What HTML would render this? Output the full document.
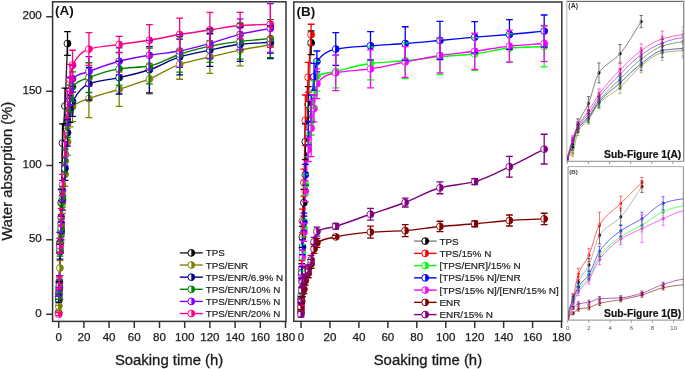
<!DOCTYPE html>
<html><head><meta charset="utf-8"><style>
html,body{margin:0;padding:0;background:#fff;width:685px;height:369px;overflow:hidden}
svg{display:block;will-change:transform}
</style></head><body>
<svg width="685" height="369" viewBox="0 0 685 369">
<rect x="52.6" y="1.8" width="233.4" height="319.6" fill="none" stroke="#333" stroke-width="1.5"/>
<rect x="293.8" y="2.0" width="268.0" height="319.3" fill="none" stroke="#333" stroke-width="1.5"/>
<path d="M46.2,314.20H52.6 M46.2,239.85H52.6 M46.2,165.50H52.6 M46.2,91.15H52.6 M46.2,16.80H52.6 M58.70,321.3V328 M83.90,321.3V328 M109.10,321.3V328 M134.30,321.3V328 M159.50,321.3V328 M184.70,321.3V328 M209.90,321.3V328 M235.10,321.3V328 M260.30,321.3V328 M285.50,321.3V328 M301.00,321.3V328 M329.95,321.3V328 M358.90,321.3V328 M387.85,321.3V328 M416.80,321.3V328 M445.75,321.3V328 M474.70,321.3V328 M503.65,321.3V328 M532.60,321.3V328 M561.55,321.3V328 " stroke="#333" stroke-width="1.5" fill="none"/>
<text x="41.8" y="316.80" text-anchor="end" style="font-family:'Liberation Sans', sans-serif;font-size:11.6px;fill:#1a1a1a;stroke:#1a1a1a;stroke-width:0.25px">0</text>
<text x="41.8" y="242.45" text-anchor="end" style="font-family:'Liberation Sans', sans-serif;font-size:11.6px;fill:#1a1a1a;stroke:#1a1a1a;stroke-width:0.25px">50</text>
<text x="41.8" y="168.10" text-anchor="end" style="font-family:'Liberation Sans', sans-serif;font-size:11.6px;fill:#1a1a1a;stroke:#1a1a1a;stroke-width:0.25px">100</text>
<text x="41.8" y="93.75" text-anchor="end" style="font-family:'Liberation Sans', sans-serif;font-size:11.6px;fill:#1a1a1a;stroke:#1a1a1a;stroke-width:0.25px">150</text>
<text x="41.8" y="19.40" text-anchor="end" style="font-family:'Liberation Sans', sans-serif;font-size:11.6px;fill:#1a1a1a;stroke:#1a1a1a;stroke-width:0.25px">200</text>
<text x="58.70" y="340.8" text-anchor="middle" style="font-family:'Liberation Sans', sans-serif;font-size:11.6px;fill:#1a1a1a;stroke:#1a1a1a;stroke-width:0.25px">0</text>
<text x="301.00" y="340.8" text-anchor="middle" style="font-family:'Liberation Sans', sans-serif;font-size:11.6px;fill:#1a1a1a;stroke:#1a1a1a;stroke-width:0.25px">0</text>
<text x="83.90" y="340.8" text-anchor="middle" style="font-family:'Liberation Sans', sans-serif;font-size:11.6px;fill:#1a1a1a;stroke:#1a1a1a;stroke-width:0.25px">20</text>
<text x="329.95" y="340.8" text-anchor="middle" style="font-family:'Liberation Sans', sans-serif;font-size:11.6px;fill:#1a1a1a;stroke:#1a1a1a;stroke-width:0.25px">20</text>
<text x="109.10" y="340.8" text-anchor="middle" style="font-family:'Liberation Sans', sans-serif;font-size:11.6px;fill:#1a1a1a;stroke:#1a1a1a;stroke-width:0.25px">40</text>
<text x="358.90" y="340.8" text-anchor="middle" style="font-family:'Liberation Sans', sans-serif;font-size:11.6px;fill:#1a1a1a;stroke:#1a1a1a;stroke-width:0.25px">40</text>
<text x="134.30" y="340.8" text-anchor="middle" style="font-family:'Liberation Sans', sans-serif;font-size:11.6px;fill:#1a1a1a;stroke:#1a1a1a;stroke-width:0.25px">60</text>
<text x="387.85" y="340.8" text-anchor="middle" style="font-family:'Liberation Sans', sans-serif;font-size:11.6px;fill:#1a1a1a;stroke:#1a1a1a;stroke-width:0.25px">60</text>
<text x="159.50" y="340.8" text-anchor="middle" style="font-family:'Liberation Sans', sans-serif;font-size:11.6px;fill:#1a1a1a;stroke:#1a1a1a;stroke-width:0.25px">80</text>
<text x="416.80" y="340.8" text-anchor="middle" style="font-family:'Liberation Sans', sans-serif;font-size:11.6px;fill:#1a1a1a;stroke:#1a1a1a;stroke-width:0.25px">80</text>
<text x="184.70" y="340.8" text-anchor="middle" style="font-family:'Liberation Sans', sans-serif;font-size:11.6px;fill:#1a1a1a;stroke:#1a1a1a;stroke-width:0.25px">100</text>
<text x="445.75" y="340.8" text-anchor="middle" style="font-family:'Liberation Sans', sans-serif;font-size:11.6px;fill:#1a1a1a;stroke:#1a1a1a;stroke-width:0.25px">100</text>
<text x="209.90" y="340.8" text-anchor="middle" style="font-family:'Liberation Sans', sans-serif;font-size:11.6px;fill:#1a1a1a;stroke:#1a1a1a;stroke-width:0.25px">120</text>
<text x="474.70" y="340.8" text-anchor="middle" style="font-family:'Liberation Sans', sans-serif;font-size:11.6px;fill:#1a1a1a;stroke:#1a1a1a;stroke-width:0.25px">120</text>
<text x="235.10" y="340.8" text-anchor="middle" style="font-family:'Liberation Sans', sans-serif;font-size:11.6px;fill:#1a1a1a;stroke:#1a1a1a;stroke-width:0.25px">140</text>
<text x="503.65" y="340.8" text-anchor="middle" style="font-family:'Liberation Sans', sans-serif;font-size:11.6px;fill:#1a1a1a;stroke:#1a1a1a;stroke-width:0.25px">140</text>
<text x="260.30" y="340.8" text-anchor="middle" style="font-family:'Liberation Sans', sans-serif;font-size:11.6px;fill:#1a1a1a;stroke:#1a1a1a;stroke-width:0.25px">160</text>
<text x="532.60" y="340.8" text-anchor="middle" style="font-family:'Liberation Sans', sans-serif;font-size:11.6px;fill:#1a1a1a;stroke:#1a1a1a;stroke-width:0.25px">160</text>
<text x="285.50" y="340.8" text-anchor="middle" style="font-family:'Liberation Sans', sans-serif;font-size:11.6px;fill:#1a1a1a;stroke:#1a1a1a;stroke-width:0.25px">180</text>
<text x="561.55" y="340.8" text-anchor="middle" style="font-family:'Liberation Sans', sans-serif;font-size:11.6px;fill:#1a1a1a;stroke:#1a1a1a;stroke-width:0.25px">180</text>
<text x="169.1" y="364.7" text-anchor="middle" style="font-family:'Liberation Sans', sans-serif;font-size:14.9px;fill:#1a1a1a;stroke:#1a1a1a;stroke-width:0.3px">Soaking time (h)</text>
<text x="427.9" y="364.7" text-anchor="middle" style="font-family:'Liberation Sans', sans-serif;font-size:14.9px;fill:#1a1a1a;stroke:#1a1a1a;stroke-width:0.3px">Soaking time (h)</text>
<text transform="translate(11.7,171.2) rotate(-90)" text-anchor="middle" style="font-family:'Liberation Sans', sans-serif;font-size:14.75px;fill:#1a1a1a;stroke:#1a1a1a;stroke-width:0.3px">Water absorption (%)</text>
<text x="55" y="15.3" style="font-family:'Liberation Sans', sans-serif;font-size:13.5px;font-weight:bold;fill:#111">(A)</text>
<text x="296.4" y="15.6" style="font-family:'Liberation Sans', sans-serif;font-size:13.5px;font-weight:bold;fill:#111">(B)</text>
<clipPath id="ca"><rect x="53.3" y="2.4" width="231.6" height="318.2"/></clipPath>
<clipPath id="cb"><rect x="294.5" y="2.7" width="266.6" height="317.9"/></clipPath>
<g clip-path="url(#ca)">
<path d="M58.70,312.71 C58.91,304.29 59.12,298.19 59.33,287.43 C59.54,276.68 59.75,252.46 59.96,242.82 C60.38,223.55 60.80,218.65 61.22,202.67 C61.64,186.70 62.06,153.22 62.48,143.19 C63.32,123.15 64.16,121.56 65.00,106.02 C65.84,90.48 66.68,64.38 67.52,43.57" stroke="#222222" stroke-width="1.40" fill="none"/><path d="M58.70,306.17 C58.91,303.89 59.12,303.07 59.33,299.33 C59.54,295.59 59.75,275.72 59.96,268.10 C60.38,252.88 60.80,244.78 61.22,233.90 C61.64,223.02 62.06,209.44 62.48,202.67 C63.32,189.14 64.16,184.53 65.00,174.42 C65.84,164.32 66.68,152.09 67.52,141.71 C68.36,131.32 69.20,114.92 70.04,111.97 C70.88,109.02 71.72,107.56 72.56,106.76 C78.02,101.60 83.48,100.72 88.94,98.58 C99.02,94.64 109.10,92.48 119.18,89.22 C129.26,85.95 139.34,82.97 149.42,78.96 C159.50,74.94 169.58,67.67 179.66,64.38 C189.74,61.10 199.82,59.32 209.90,56.95 C219.98,54.57 230.06,52.11 240.14,50.11 C250.22,48.11 260.30,46.54 270.38,44.76" stroke="#808000" stroke-width="1.40" fill="none"/><path d="M58.70,299.33 C58.91,295.86 59.12,294.34 59.33,288.92 C59.54,283.50 59.75,257.53 59.96,251.75 C60.38,240.18 60.80,239.26 61.22,230.93 C61.64,222.60 62.06,206.91 62.48,199.70 C63.32,185.29 64.16,179.58 65.00,168.47 C65.84,157.37 66.68,142.30 67.52,132.79 C68.36,123.27 69.20,112.77 70.04,108.99 C70.88,105.22 71.72,103.07 72.56,101.56 C78.02,91.77 83.48,85.71 88.94,83.71 C99.02,80.03 109.10,79.91 119.18,77.62 C129.26,75.33 139.34,72.99 149.42,69.74 C159.50,66.49 169.58,59.92 179.66,56.95 C189.74,53.98 199.82,52.20 209.90,50.11 C219.98,48.02 230.06,45.33 240.14,44.31 C250.22,43.29 260.30,42.92 270.38,42.23" stroke="#000080" stroke-width="1.40" fill="none"/><path d="M58.70,296.36 C58.91,292.89 59.12,291.37 59.33,285.95 C59.54,280.53 59.75,254.55 59.96,248.77 C60.38,237.21 60.80,236.28 61.22,227.95 C61.64,219.63 62.06,204.53 62.48,196.73 C63.32,181.11 64.16,173.18 65.00,161.04 C65.84,148.90 66.68,133.90 67.52,123.86 C68.36,113.83 69.20,103.98 70.04,98.58 C70.88,93.19 71.72,87.72 72.56,86.69 C78.02,79.98 83.48,79.76 88.94,77.62 C99.02,73.66 109.10,70.27 119.18,68.84 C129.26,67.42 139.34,67.54 149.42,66.02 C159.50,64.50 169.58,57.49 179.66,54.27 C189.74,51.06 199.82,48.10 209.90,46.09 C219.98,44.09 230.06,42.48 240.14,41.34 C250.22,40.19 260.30,39.55 270.38,38.66" stroke="#008000" stroke-width="1.40" fill="none"/><path d="M58.70,293.38 C58.91,289.42 59.12,287.43 59.33,281.49 C59.54,275.54 59.75,251.81 59.96,245.80 C60.38,233.77 60.80,232.33 61.22,223.49 C61.64,214.65 62.06,198.93 62.48,190.78 C63.32,174.48 64.16,166.70 65.00,153.60 C65.84,140.51 66.68,121.22 67.52,111.97 C68.36,102.72 69.20,96.32 70.04,91.15 C70.88,85.98 71.72,79.67 72.56,78.81 C78.02,73.22 83.48,73.65 88.94,71.52 C99.02,67.59 109.10,63.77 119.18,61.26 C129.26,58.75 139.34,56.98 149.42,55.31 C159.50,53.65 169.58,52.83 179.66,51.00 C189.74,49.17 199.82,46.17 209.90,43.42 C219.98,40.66 230.06,36.74 240.14,34.35 C250.22,31.95 260.30,30.38 270.38,28.40" stroke="#8000FF" stroke-width="1.40" fill="none"/><path d="M58.70,314.20 C58.91,303.79 59.12,294.29 59.33,282.97 C59.54,271.66 59.75,252.98 59.96,245.80 C60.38,231.43 60.80,227.65 61.22,217.54 C61.64,207.44 62.06,193.35 62.48,184.83 C63.32,167.79 64.16,158.06 65.00,144.68 C65.84,131.30 66.68,114.87 67.52,104.53 C68.36,94.19 69.20,85.30 70.04,79.25 C70.88,73.21 71.72,66.82 72.56,65.13 C78.02,54.13 83.48,50.62 88.94,49.07 C99.02,46.20 109.10,45.92 119.18,44.46 C129.26,43.00 139.34,41.91 149.42,40.29 C159.50,38.68 169.58,36.21 179.66,34.50 C189.74,32.78 199.82,31.37 209.90,29.89 C219.98,28.40 230.06,26.25 240.14,25.57 C250.22,24.89 260.30,24.68 270.38,24.23" stroke="#FF0080" stroke-width="1.40" fill="none"/><circle cx="58.70" cy="312.71" r="3.45" fill="#fff" stroke="#000000" stroke-width="0.85"/><path d="M58.70,309.26 A3.45,3.45 0 0 1 58.70,316.16 Z" fill="#000000"/><circle cx="59.33" cy="287.43" r="3.45" fill="#fff" stroke="#000000" stroke-width="0.85"/><path d="M59.33,283.98 A3.45,3.45 0 0 1 59.33,290.88 Z" fill="#000000"/><circle cx="59.96" cy="242.82" r="3.45" fill="#fff" stroke="#000000" stroke-width="0.85"/><path d="M59.96,239.37 A3.45,3.45 0 0 1 59.96,246.27 Z" fill="#000000"/><circle cx="61.22" cy="202.67" r="3.45" fill="#fff" stroke="#000000" stroke-width="0.85"/><path d="M61.22,199.22 A3.45,3.45 0 0 1 61.22,206.12 Z" fill="#000000"/><circle cx="62.48" cy="143.19" r="3.45" fill="#fff" stroke="#000000" stroke-width="0.85"/><path d="M62.48,139.74 A3.45,3.45 0 0 1 62.48,146.64 Z" fill="#000000"/><circle cx="65.00" cy="106.02" r="3.45" fill="#fff" stroke="#000000" stroke-width="0.85"/><path d="M65.00,102.57 A3.45,3.45 0 0 1 65.00,109.47 Z" fill="#000000"/><circle cx="67.52" cy="43.57" r="3.45" fill="#fff" stroke="#000000" stroke-width="0.85"/><path d="M67.52,40.12 A3.45,3.45 0 0 1 67.52,47.02 Z" fill="#000000"/><circle cx="58.70" cy="306.17" r="3.45" fill="#fff" stroke="#808000" stroke-width="0.85"/><path d="M58.70,302.72 A3.45,3.45 0 0 1 58.70,309.62 Z" fill="#808000"/><circle cx="59.33" cy="299.33" r="3.45" fill="#fff" stroke="#808000" stroke-width="0.85"/><path d="M59.33,295.88 A3.45,3.45 0 0 1 59.33,302.78 Z" fill="#808000"/><circle cx="59.96" cy="268.10" r="3.45" fill="#fff" stroke="#808000" stroke-width="0.85"/><path d="M59.96,264.65 A3.45,3.45 0 0 1 59.96,271.55 Z" fill="#808000"/><circle cx="61.22" cy="233.90" r="3.45" fill="#fff" stroke="#808000" stroke-width="0.85"/><path d="M61.22,230.45 A3.45,3.45 0 0 1 61.22,237.35 Z" fill="#808000"/><circle cx="62.48" cy="202.67" r="3.45" fill="#fff" stroke="#808000" stroke-width="0.85"/><path d="M62.48,199.22 A3.45,3.45 0 0 1 62.48,206.12 Z" fill="#808000"/><circle cx="65.00" cy="174.42" r="3.45" fill="#fff" stroke="#808000" stroke-width="0.85"/><path d="M65.00,170.97 A3.45,3.45 0 0 1 65.00,177.87 Z" fill="#808000"/><circle cx="67.52" cy="141.71" r="3.45" fill="#fff" stroke="#808000" stroke-width="0.85"/><path d="M67.52,138.26 A3.45,3.45 0 0 1 67.52,145.16 Z" fill="#808000"/><circle cx="70.04" cy="111.97" r="3.45" fill="#fff" stroke="#808000" stroke-width="0.85"/><path d="M70.04,108.52 A3.45,3.45 0 0 1 70.04,115.42 Z" fill="#808000"/><circle cx="72.56" cy="106.76" r="3.45" fill="#fff" stroke="#808000" stroke-width="0.85"/><path d="M72.56,103.31 A3.45,3.45 0 0 1 72.56,110.21 Z" fill="#808000"/><circle cx="88.94" cy="98.58" r="3.45" fill="#fff" stroke="#808000" stroke-width="0.85"/><path d="M88.94,95.13 A3.45,3.45 0 0 1 88.94,102.03 Z" fill="#808000"/><circle cx="119.18" cy="89.22" r="3.45" fill="#fff" stroke="#808000" stroke-width="0.85"/><path d="M119.18,85.77 A3.45,3.45 0 0 1 119.18,92.67 Z" fill="#808000"/><circle cx="149.42" cy="78.96" r="3.45" fill="#fff" stroke="#808000" stroke-width="0.85"/><path d="M149.42,75.51 A3.45,3.45 0 0 1 149.42,82.41 Z" fill="#808000"/><circle cx="179.66" cy="64.38" r="3.45" fill="#fff" stroke="#808000" stroke-width="0.85"/><path d="M179.66,60.93 A3.45,3.45 0 0 1 179.66,67.83 Z" fill="#808000"/><circle cx="209.90" cy="56.95" r="3.45" fill="#fff" stroke="#808000" stroke-width="0.85"/><path d="M209.90,53.50 A3.45,3.45 0 0 1 209.90,60.40 Z" fill="#808000"/><circle cx="240.14" cy="50.11" r="3.45" fill="#fff" stroke="#808000" stroke-width="0.85"/><path d="M240.14,46.66 A3.45,3.45 0 0 1 240.14,53.56 Z" fill="#808000"/><circle cx="270.38" cy="44.76" r="3.45" fill="#fff" stroke="#808000" stroke-width="0.85"/><path d="M270.38,41.31 A3.45,3.45 0 0 1 270.38,48.21 Z" fill="#808000"/><circle cx="58.70" cy="299.33" r="3.45" fill="#fff" stroke="#000080" stroke-width="0.85"/><path d="M58.70,295.88 A3.45,3.45 0 0 1 58.70,302.78 Z" fill="#000080"/><circle cx="59.33" cy="288.92" r="3.45" fill="#fff" stroke="#000080" stroke-width="0.85"/><path d="M59.33,285.47 A3.45,3.45 0 0 1 59.33,292.37 Z" fill="#000080"/><circle cx="59.96" cy="251.75" r="3.45" fill="#fff" stroke="#000080" stroke-width="0.85"/><path d="M59.96,248.30 A3.45,3.45 0 0 1 59.96,255.20 Z" fill="#000080"/><circle cx="61.22" cy="230.93" r="3.45" fill="#fff" stroke="#000080" stroke-width="0.85"/><path d="M61.22,227.48 A3.45,3.45 0 0 1 61.22,234.38 Z" fill="#000080"/><circle cx="62.48" cy="199.70" r="3.45" fill="#fff" stroke="#000080" stroke-width="0.85"/><path d="M62.48,196.25 A3.45,3.45 0 0 1 62.48,203.15 Z" fill="#000080"/><circle cx="65.00" cy="168.47" r="3.45" fill="#fff" stroke="#000080" stroke-width="0.85"/><path d="M65.00,165.02 A3.45,3.45 0 0 1 65.00,171.92 Z" fill="#000080"/><circle cx="67.52" cy="132.79" r="3.45" fill="#fff" stroke="#000080" stroke-width="0.85"/><path d="M67.52,129.34 A3.45,3.45 0 0 1 67.52,136.24 Z" fill="#000080"/><circle cx="70.04" cy="108.99" r="3.45" fill="#fff" stroke="#000080" stroke-width="0.85"/><path d="M70.04,105.54 A3.45,3.45 0 0 1 70.04,112.44 Z" fill="#000080"/><circle cx="72.56" cy="101.56" r="3.45" fill="#fff" stroke="#000080" stroke-width="0.85"/><path d="M72.56,98.11 A3.45,3.45 0 0 1 72.56,105.01 Z" fill="#000080"/><circle cx="88.94" cy="83.71" r="3.45" fill="#fff" stroke="#000080" stroke-width="0.85"/><path d="M88.94,80.26 A3.45,3.45 0 0 1 88.94,87.16 Z" fill="#000080"/><circle cx="119.18" cy="77.62" r="3.45" fill="#fff" stroke="#000080" stroke-width="0.85"/><path d="M119.18,74.17 A3.45,3.45 0 0 1 119.18,81.07 Z" fill="#000080"/><circle cx="149.42" cy="69.74" r="3.45" fill="#fff" stroke="#000080" stroke-width="0.85"/><path d="M149.42,66.29 A3.45,3.45 0 0 1 149.42,73.19 Z" fill="#000080"/><circle cx="179.66" cy="56.95" r="3.45" fill="#fff" stroke="#000080" stroke-width="0.85"/><path d="M179.66,53.50 A3.45,3.45 0 0 1 179.66,60.40 Z" fill="#000080"/><circle cx="209.90" cy="50.11" r="3.45" fill="#fff" stroke="#000080" stroke-width="0.85"/><path d="M209.90,46.66 A3.45,3.45 0 0 1 209.90,53.56 Z" fill="#000080"/><circle cx="240.14" cy="44.31" r="3.45" fill="#fff" stroke="#000080" stroke-width="0.85"/><path d="M240.14,40.86 A3.45,3.45 0 0 1 240.14,47.76 Z" fill="#000080"/><circle cx="270.38" cy="42.23" r="3.45" fill="#fff" stroke="#000080" stroke-width="0.85"/><path d="M270.38,38.78 A3.45,3.45 0 0 1 270.38,45.68 Z" fill="#000080"/><circle cx="58.70" cy="296.36" r="3.45" fill="#fff" stroke="#008000" stroke-width="0.85"/><path d="M58.70,292.91 A3.45,3.45 0 0 1 58.70,299.81 Z" fill="#008000"/><circle cx="59.33" cy="285.95" r="3.45" fill="#fff" stroke="#008000" stroke-width="0.85"/><path d="M59.33,282.50 A3.45,3.45 0 0 1 59.33,289.40 Z" fill="#008000"/><circle cx="59.96" cy="248.77" r="3.45" fill="#fff" stroke="#008000" stroke-width="0.85"/><path d="M59.96,245.32 A3.45,3.45 0 0 1 59.96,252.22 Z" fill="#008000"/><circle cx="61.22" cy="227.95" r="3.45" fill="#fff" stroke="#008000" stroke-width="0.85"/><path d="M61.22,224.50 A3.45,3.45 0 0 1 61.22,231.40 Z" fill="#008000"/><circle cx="62.48" cy="196.73" r="3.45" fill="#fff" stroke="#008000" stroke-width="0.85"/><path d="M62.48,193.28 A3.45,3.45 0 0 1 62.48,200.18 Z" fill="#008000"/><circle cx="65.00" cy="161.04" r="3.45" fill="#fff" stroke="#008000" stroke-width="0.85"/><path d="M65.00,157.59 A3.45,3.45 0 0 1 65.00,164.49 Z" fill="#008000"/><circle cx="67.52" cy="123.86" r="3.45" fill="#fff" stroke="#008000" stroke-width="0.85"/><path d="M67.52,120.41 A3.45,3.45 0 0 1 67.52,127.31 Z" fill="#008000"/><circle cx="70.04" cy="98.58" r="3.45" fill="#fff" stroke="#008000" stroke-width="0.85"/><path d="M70.04,95.13 A3.45,3.45 0 0 1 70.04,102.03 Z" fill="#008000"/><circle cx="72.56" cy="86.69" r="3.45" fill="#fff" stroke="#008000" stroke-width="0.85"/><path d="M72.56,83.24 A3.45,3.45 0 0 1 72.56,90.14 Z" fill="#008000"/><circle cx="88.94" cy="77.62" r="3.45" fill="#fff" stroke="#008000" stroke-width="0.85"/><path d="M88.94,74.17 A3.45,3.45 0 0 1 88.94,81.07 Z" fill="#008000"/><circle cx="119.18" cy="68.84" r="3.45" fill="#fff" stroke="#008000" stroke-width="0.85"/><path d="M119.18,65.39 A3.45,3.45 0 0 1 119.18,72.29 Z" fill="#008000"/><circle cx="149.42" cy="66.02" r="3.45" fill="#fff" stroke="#008000" stroke-width="0.85"/><path d="M149.42,62.57 A3.45,3.45 0 0 1 149.42,69.47 Z" fill="#008000"/><circle cx="179.66" cy="54.27" r="3.45" fill="#fff" stroke="#008000" stroke-width="0.85"/><path d="M179.66,50.82 A3.45,3.45 0 0 1 179.66,57.72 Z" fill="#008000"/><circle cx="209.90" cy="46.09" r="3.45" fill="#fff" stroke="#008000" stroke-width="0.85"/><path d="M209.90,42.64 A3.45,3.45 0 0 1 209.90,49.54 Z" fill="#008000"/><circle cx="240.14" cy="41.34" r="3.45" fill="#fff" stroke="#008000" stroke-width="0.85"/><path d="M240.14,37.89 A3.45,3.45 0 0 1 240.14,44.79 Z" fill="#008000"/><circle cx="270.38" cy="38.66" r="3.45" fill="#fff" stroke="#008000" stroke-width="0.85"/><path d="M270.38,35.21 A3.45,3.45 0 0 1 270.38,42.11 Z" fill="#008000"/><circle cx="58.70" cy="293.38" r="3.45" fill="#fff" stroke="#8000FF" stroke-width="0.85"/><path d="M58.70,289.93 A3.45,3.45 0 0 1 58.70,296.83 Z" fill="#8000FF"/><circle cx="59.33" cy="281.49" r="3.45" fill="#fff" stroke="#8000FF" stroke-width="0.85"/><path d="M59.33,278.04 A3.45,3.45 0 0 1 59.33,284.94 Z" fill="#8000FF"/><circle cx="59.96" cy="245.80" r="3.45" fill="#fff" stroke="#8000FF" stroke-width="0.85"/><path d="M59.96,242.35 A3.45,3.45 0 0 1 59.96,249.25 Z" fill="#8000FF"/><circle cx="61.22" cy="223.49" r="3.45" fill="#fff" stroke="#8000FF" stroke-width="0.85"/><path d="M61.22,220.04 A3.45,3.45 0 0 1 61.22,226.94 Z" fill="#8000FF"/><circle cx="62.48" cy="190.78" r="3.45" fill="#fff" stroke="#8000FF" stroke-width="0.85"/><path d="M62.48,187.33 A3.45,3.45 0 0 1 62.48,194.23 Z" fill="#8000FF"/><circle cx="65.00" cy="153.60" r="3.45" fill="#fff" stroke="#8000FF" stroke-width="0.85"/><path d="M65.00,150.15 A3.45,3.45 0 0 1 65.00,157.05 Z" fill="#8000FF"/><circle cx="67.52" cy="111.97" r="3.45" fill="#fff" stroke="#8000FF" stroke-width="0.85"/><path d="M67.52,108.52 A3.45,3.45 0 0 1 67.52,115.42 Z" fill="#8000FF"/><circle cx="70.04" cy="91.15" r="3.45" fill="#fff" stroke="#8000FF" stroke-width="0.85"/><path d="M70.04,87.70 A3.45,3.45 0 0 1 70.04,94.60 Z" fill="#8000FF"/><circle cx="72.56" cy="78.81" r="3.45" fill="#fff" stroke="#8000FF" stroke-width="0.85"/><path d="M72.56,75.36 A3.45,3.45 0 0 1 72.56,82.26 Z" fill="#8000FF"/><circle cx="88.94" cy="71.52" r="3.45" fill="#fff" stroke="#8000FF" stroke-width="0.85"/><path d="M88.94,68.07 A3.45,3.45 0 0 1 88.94,74.97 Z" fill="#8000FF"/><circle cx="119.18" cy="61.26" r="3.45" fill="#fff" stroke="#8000FF" stroke-width="0.85"/><path d="M119.18,57.81 A3.45,3.45 0 0 1 119.18,64.71 Z" fill="#8000FF"/><circle cx="149.42" cy="55.31" r="3.45" fill="#fff" stroke="#8000FF" stroke-width="0.85"/><path d="M149.42,51.86 A3.45,3.45 0 0 1 149.42,58.76 Z" fill="#8000FF"/><circle cx="179.66" cy="51.00" r="3.45" fill="#fff" stroke="#8000FF" stroke-width="0.85"/><path d="M179.66,47.55 A3.45,3.45 0 0 1 179.66,54.45 Z" fill="#8000FF"/><circle cx="209.90" cy="43.42" r="3.45" fill="#fff" stroke="#8000FF" stroke-width="0.85"/><path d="M209.90,39.97 A3.45,3.45 0 0 1 209.90,46.87 Z" fill="#8000FF"/><circle cx="240.14" cy="34.35" r="3.45" fill="#fff" stroke="#8000FF" stroke-width="0.85"/><path d="M240.14,30.90 A3.45,3.45 0 0 1 240.14,37.80 Z" fill="#8000FF"/><circle cx="270.38" cy="28.40" r="3.45" fill="#fff" stroke="#8000FF" stroke-width="0.85"/><path d="M270.38,24.95 A3.45,3.45 0 0 1 270.38,31.85 Z" fill="#8000FF"/><circle cx="58.70" cy="314.20" r="3.45" fill="#fff" stroke="#FF0080" stroke-width="0.85"/><path d="M58.70,310.75 A3.45,3.45 0 0 1 58.70,317.65 Z" fill="#FF0080"/><circle cx="59.33" cy="282.97" r="3.45" fill="#fff" stroke="#FF0080" stroke-width="0.85"/><path d="M59.33,279.52 A3.45,3.45 0 0 1 59.33,286.42 Z" fill="#FF0080"/><circle cx="59.96" cy="245.80" r="3.45" fill="#fff" stroke="#FF0080" stroke-width="0.85"/><path d="M59.96,242.35 A3.45,3.45 0 0 1 59.96,249.25 Z" fill="#FF0080"/><circle cx="61.22" cy="217.54" r="3.45" fill="#fff" stroke="#FF0080" stroke-width="0.85"/><path d="M61.22,214.09 A3.45,3.45 0 0 1 61.22,220.99 Z" fill="#FF0080"/><circle cx="62.48" cy="184.83" r="3.45" fill="#fff" stroke="#FF0080" stroke-width="0.85"/><path d="M62.48,181.38 A3.45,3.45 0 0 1 62.48,188.28 Z" fill="#FF0080"/><circle cx="65.00" cy="144.68" r="3.45" fill="#fff" stroke="#FF0080" stroke-width="0.85"/><path d="M65.00,141.23 A3.45,3.45 0 0 1 65.00,148.13 Z" fill="#FF0080"/><circle cx="67.52" cy="104.53" r="3.45" fill="#fff" stroke="#FF0080" stroke-width="0.85"/><path d="M67.52,101.08 A3.45,3.45 0 0 1 67.52,107.98 Z" fill="#FF0080"/><circle cx="70.04" cy="79.25" r="3.45" fill="#fff" stroke="#FF0080" stroke-width="0.85"/><path d="M70.04,75.80 A3.45,3.45 0 0 1 70.04,82.70 Z" fill="#FF0080"/><circle cx="72.56" cy="65.13" r="3.45" fill="#fff" stroke="#FF0080" stroke-width="0.85"/><path d="M72.56,61.68 A3.45,3.45 0 0 1 72.56,68.58 Z" fill="#FF0080"/><circle cx="88.94" cy="49.07" r="3.45" fill="#fff" stroke="#FF0080" stroke-width="0.85"/><path d="M88.94,45.62 A3.45,3.45 0 0 1 88.94,52.52 Z" fill="#FF0080"/><circle cx="119.18" cy="44.46" r="3.45" fill="#fff" stroke="#FF0080" stroke-width="0.85"/><path d="M119.18,41.01 A3.45,3.45 0 0 1 119.18,47.91 Z" fill="#FF0080"/><circle cx="149.42" cy="40.29" r="3.45" fill="#fff" stroke="#FF0080" stroke-width="0.85"/><path d="M149.42,36.84 A3.45,3.45 0 0 1 149.42,43.74 Z" fill="#FF0080"/><circle cx="179.66" cy="34.50" r="3.45" fill="#fff" stroke="#FF0080" stroke-width="0.85"/><path d="M179.66,31.05 A3.45,3.45 0 0 1 179.66,37.95 Z" fill="#FF0080"/><circle cx="209.90" cy="29.89" r="3.45" fill="#fff" stroke="#FF0080" stroke-width="0.85"/><path d="M209.90,26.44 A3.45,3.45 0 0 1 209.90,33.34 Z" fill="#FF0080"/><circle cx="240.14" cy="25.57" r="3.45" fill="#fff" stroke="#FF0080" stroke-width="0.85"/><path d="M240.14,22.12 A3.45,3.45 0 0 1 240.14,29.02 Z" fill="#FF0080"/><circle cx="270.38" cy="24.23" r="3.45" fill="#fff" stroke="#FF0080" stroke-width="0.85"/><path d="M270.38,20.78 A3.45,3.45 0 0 1 270.38,27.68 Z" fill="#FF0080"/><path d="M59.33,281.49 V293.38 M55.93,281.49 H62.73 M55.93,293.38 H62.73" stroke="#000000" stroke-width="1.30" fill="none"/><path d="M59.96,232.41 V253.23 M56.56,232.41 H63.36 M56.56,253.23 H63.36" stroke="#000000" stroke-width="1.30" fill="none"/><path d="M61.22,189.29 V216.06 M57.82,189.29 H64.62 M57.82,216.06 H64.62" stroke="#000000" stroke-width="1.30" fill="none"/><path d="M62.48,123.86 V162.53 M59.08,123.86 H65.88 M59.08,162.53 H65.88" stroke="#000000" stroke-width="1.30" fill="none"/><path d="M65.00,88.18 V123.86 M61.60,88.18 H68.40 M61.60,123.86 H68.40" stroke="#000000" stroke-width="1.30" fill="none"/><path d="M67.52,31.67 V55.46 M64.12,31.67 H70.92 M64.12,55.46 H70.92" stroke="#000000" stroke-width="1.30" fill="none"/><path d="M58.70,301.86 V310.48 M55.30,301.86 H62.10 M55.30,310.48 H62.10" stroke="#808000" stroke-width="1.30" fill="none"/><path d="M59.33,293.38 V305.28 M55.93,293.38 H62.73 M55.93,305.28 H62.73" stroke="#808000" stroke-width="1.30" fill="none"/><path d="M59.96,260.67 V275.54 M56.56,260.67 H63.36 M56.56,275.54 H63.36" stroke="#808000" stroke-width="1.30" fill="none"/><path d="M61.22,224.98 V242.82 M57.82,224.98 H64.62 M57.82,242.82 H64.62" stroke="#808000" stroke-width="1.30" fill="none"/><path d="M62.48,192.27 V213.08 M59.08,192.27 H65.88 M59.08,213.08 H65.88" stroke="#808000" stroke-width="1.30" fill="none"/><path d="M65.00,162.53 V186.32 M61.60,162.53 H68.40 M61.60,186.32 H68.40" stroke="#808000" stroke-width="1.30" fill="none"/><path d="M67.52,128.32 V155.09 M64.12,128.32 H70.92 M64.12,155.09 H70.92" stroke="#808000" stroke-width="1.30" fill="none"/><path d="M70.04,97.10 V126.84 M66.64,97.10 H73.44 M66.64,126.84 H73.44" stroke="#808000" stroke-width="1.30" fill="none"/><path d="M72.56,91.89 V121.63 M69.16,91.89 H75.96 M69.16,121.63 H75.96" stroke="#808000" stroke-width="1.30" fill="none"/><path d="M88.94,79.55 V117.62 M85.54,79.55 H92.34 M85.54,117.62 H92.34" stroke="#808000" stroke-width="1.30" fill="none"/><path d="M119.18,72.12 V106.32 M115.78,72.12 H122.58 M115.78,106.32 H122.58" stroke="#808000" stroke-width="1.30" fill="none"/><path d="M149.42,64.09 V93.83 M146.02,64.09 H152.82 M146.02,93.83 H152.82" stroke="#808000" stroke-width="1.30" fill="none"/><path d="M179.66,49.51 V79.25 M176.26,49.51 H183.06 M176.26,79.25 H183.06" stroke="#808000" stroke-width="1.30" fill="none"/><path d="M209.90,40.59 V73.31 M206.50,40.59 H213.30 M206.50,73.31 H213.30" stroke="#808000" stroke-width="1.30" fill="none"/><path d="M240.14,34.35 V65.87 M236.74,34.35 H243.54 M236.74,65.87 H243.54" stroke="#808000" stroke-width="1.30" fill="none"/><path d="M270.38,37.32 V52.19 M266.98,37.32 H273.78 M266.98,52.19 H273.78" stroke="#808000" stroke-width="1.30" fill="none"/><path d="M58.70,296.36 V302.30 M55.30,296.36 H62.10 M55.30,302.30 H62.10" stroke="#000080" stroke-width="1.30" fill="none"/><path d="M59.33,282.97 V294.87 M55.93,282.97 H62.73 M55.93,294.87 H62.73" stroke="#000080" stroke-width="1.30" fill="none"/><path d="M59.96,244.31 V259.18 M56.56,244.31 H63.36 M56.56,259.18 H63.36" stroke="#000080" stroke-width="1.30" fill="none"/><path d="M61.22,222.01 V239.85 M57.82,222.01 H64.62 M57.82,239.85 H64.62" stroke="#000080" stroke-width="1.30" fill="none"/><path d="M62.48,189.29 V210.11 M59.08,189.29 H65.88 M59.08,210.11 H65.88" stroke="#000080" stroke-width="1.30" fill="none"/><path d="M65.00,156.58 V180.37 M61.60,156.58 H68.40 M61.60,180.37 H68.40" stroke="#000080" stroke-width="1.30" fill="none"/><path d="M67.52,119.40 V146.17 M64.12,119.40 H70.92 M64.12,146.17 H70.92" stroke="#000080" stroke-width="1.30" fill="none"/><path d="M70.04,95.61 V122.38 M66.64,95.61 H73.44 M66.64,122.38 H73.44" stroke="#000080" stroke-width="1.30" fill="none"/><path d="M72.56,86.69 V116.43 M69.16,86.69 H75.96 M69.16,116.43 H75.96" stroke="#000080" stroke-width="1.30" fill="none"/><path d="M88.94,67.36 V100.07 M85.54,67.36 H92.34 M85.54,100.07 H92.34" stroke="#000080" stroke-width="1.30" fill="none"/><path d="M119.18,61.26 V93.98 M115.78,61.26 H122.58 M115.78,93.98 H122.58" stroke="#000080" stroke-width="1.30" fill="none"/><path d="M149.42,46.69 V92.79 M146.02,46.69 H152.82 M146.02,92.79 H152.82" stroke="#000080" stroke-width="1.30" fill="none"/><path d="M179.66,39.10 V74.79 M176.26,39.10 H183.06 M176.26,74.79 H183.06" stroke="#000080" stroke-width="1.30" fill="none"/><path d="M209.90,33.75 V66.47 M206.50,33.75 H213.30 M206.50,66.47 H213.30" stroke="#000080" stroke-width="1.30" fill="none"/><path d="M240.14,27.21 V61.41 M236.74,27.21 H243.54 M236.74,61.41 H243.54" stroke="#000080" stroke-width="1.30" fill="none"/><path d="M270.38,25.87 V58.58 M266.98,25.87 H273.78 M266.98,58.58 H273.78" stroke="#000080" stroke-width="1.30" fill="none"/><path d="M58.70,293.38 V299.33 M55.30,293.38 H62.10 M55.30,299.33 H62.10" stroke="#008000" stroke-width="1.30" fill="none"/><path d="M59.33,280.00 V291.89 M55.93,280.00 H62.73 M55.93,291.89 H62.73" stroke="#008000" stroke-width="1.30" fill="none"/><path d="M59.96,241.34 V256.21 M56.56,241.34 H63.36 M56.56,256.21 H63.36" stroke="#008000" stroke-width="1.30" fill="none"/><path d="M61.22,219.03 V236.88 M57.82,219.03 H64.62 M57.82,236.88 H64.62" stroke="#008000" stroke-width="1.30" fill="none"/><path d="M62.48,186.32 V207.14 M59.08,186.32 H65.88 M59.08,207.14 H65.88" stroke="#008000" stroke-width="1.30" fill="none"/><path d="M65.00,149.14 V172.94 M61.60,149.14 H68.40 M61.60,172.94 H68.40" stroke="#008000" stroke-width="1.30" fill="none"/><path d="M67.52,110.48 V137.25 M64.12,110.48 H70.92 M64.12,137.25 H70.92" stroke="#008000" stroke-width="1.30" fill="none"/><path d="M70.04,85.20 V111.97 M66.64,85.20 H73.44 M66.64,111.97 H73.44" stroke="#008000" stroke-width="1.30" fill="none"/><path d="M72.56,71.82 V101.56 M69.16,71.82 H75.96 M69.16,101.56 H75.96" stroke="#008000" stroke-width="1.30" fill="none"/><path d="M88.94,62.75 V92.49 M85.54,62.75 H92.34 M85.54,92.49 H92.34" stroke="#008000" stroke-width="1.30" fill="none"/><path d="M119.18,52.49 V85.20 M115.78,52.49 H122.58 M115.78,85.20 H122.58" stroke="#008000" stroke-width="1.30" fill="none"/><path d="M149.42,48.18 V83.86 M146.02,48.18 H152.82 M146.02,83.86 H152.82" stroke="#008000" stroke-width="1.30" fill="none"/><path d="M179.66,36.43 V72.12 M176.26,36.43 H183.06 M176.26,72.12 H183.06" stroke="#008000" stroke-width="1.30" fill="none"/><path d="M209.90,29.74 V62.45 M206.50,29.74 H213.30 M206.50,62.45 H213.30" stroke="#008000" stroke-width="1.30" fill="none"/><path d="M240.14,23.49 V59.18 M236.74,23.49 H243.54 M236.74,59.18 H243.54" stroke="#008000" stroke-width="1.30" fill="none"/><path d="M270.38,19.63 V57.69 M266.98,19.63 H273.78 M266.98,57.69 H273.78" stroke="#008000" stroke-width="1.30" fill="none"/><path d="M58.70,290.41 V296.36 M55.30,290.41 H62.10 M55.30,296.36 H62.10" stroke="#8000FF" stroke-width="1.30" fill="none"/><path d="M59.33,275.54 V287.43 M55.93,275.54 H62.73 M55.93,287.43 H62.73" stroke="#8000FF" stroke-width="1.30" fill="none"/><path d="M59.96,238.36 V253.23 M56.56,238.36 H63.36 M56.56,253.23 H63.36" stroke="#8000FF" stroke-width="1.30" fill="none"/><path d="M61.22,214.57 V232.41 M57.82,214.57 H64.62 M57.82,232.41 H64.62" stroke="#8000FF" stroke-width="1.30" fill="none"/><path d="M62.48,180.37 V201.19 M59.08,180.37 H65.88 M59.08,201.19 H65.88" stroke="#8000FF" stroke-width="1.30" fill="none"/><path d="M65.00,141.71 V165.50 M61.60,141.71 H68.40 M61.60,165.50 H68.40" stroke="#8000FF" stroke-width="1.30" fill="none"/><path d="M67.52,98.58 V125.35 M64.12,98.58 H70.92 M64.12,125.35 H70.92" stroke="#8000FF" stroke-width="1.30" fill="none"/><path d="M70.04,77.77 V104.53 M66.64,77.77 H73.44 M66.64,104.53 H73.44" stroke="#8000FF" stroke-width="1.30" fill="none"/><path d="M72.56,65.42 V92.19 M69.16,65.42 H75.96 M69.16,92.19 H75.96" stroke="#8000FF" stroke-width="1.30" fill="none"/><path d="M88.94,56.65 V86.39 M85.54,56.65 H92.34 M85.54,86.39 H92.34" stroke="#8000FF" stroke-width="1.30" fill="none"/><path d="M119.18,47.88 V74.64 M115.78,47.88 H122.58 M115.78,74.64 H122.58" stroke="#8000FF" stroke-width="1.30" fill="none"/><path d="M149.42,40.44 V70.18 M146.02,40.44 H152.82 M146.02,70.18 H152.82" stroke="#8000FF" stroke-width="1.30" fill="none"/><path d="M179.66,34.64 V67.36 M176.26,34.64 H183.06 M176.26,67.36 H183.06" stroke="#8000FF" stroke-width="1.30" fill="none"/><path d="M209.90,28.55 V58.29 M206.50,28.55 H213.30 M206.50,58.29 H213.30" stroke="#8000FF" stroke-width="1.30" fill="none"/><path d="M240.14,18.88 V49.81 M236.74,18.88 H243.54 M236.74,49.81 H243.54" stroke="#8000FF" stroke-width="1.30" fill="none"/><path d="M270.38,3.57 V53.23 M266.98,3.57 H273.78 M266.98,53.23 H273.78" stroke="#8000FF" stroke-width="1.30" fill="none"/><path d="M58.70,312.71 V315.69 M55.30,312.71 H62.10 M55.30,315.69 H62.10" stroke="#FF0080" stroke-width="1.30" fill="none"/><path d="M59.33,277.02 V288.92 M55.93,277.02 H62.73 M55.93,288.92 H62.73" stroke="#FF0080" stroke-width="1.30" fill="none"/><path d="M59.96,238.36 V253.23 M56.56,238.36 H63.36 M56.56,253.23 H63.36" stroke="#FF0080" stroke-width="1.30" fill="none"/><path d="M61.22,208.62 V226.47 M57.82,208.62 H64.62 M57.82,226.47 H64.62" stroke="#FF0080" stroke-width="1.30" fill="none"/><path d="M62.48,174.42 V195.24 M59.08,174.42 H65.88 M59.08,195.24 H65.88" stroke="#FF0080" stroke-width="1.30" fill="none"/><path d="M65.00,132.79 V156.58 M61.60,132.79 H68.40 M61.60,156.58 H68.40" stroke="#FF0080" stroke-width="1.30" fill="none"/><path d="M67.52,91.15 V117.92 M64.12,91.15 H70.92 M64.12,117.92 H70.92" stroke="#FF0080" stroke-width="1.30" fill="none"/><path d="M70.04,64.38 V94.12 M66.64,64.38 H73.44 M66.64,94.12 H73.44" stroke="#FF0080" stroke-width="1.30" fill="none"/><path d="M72.56,50.26 V80.00 M69.16,50.26 H75.96 M69.16,80.00 H75.96" stroke="#FF0080" stroke-width="1.30" fill="none"/><path d="M88.94,32.71 V65.42 M85.54,32.71 H92.34 M85.54,65.42 H92.34" stroke="#FF0080" stroke-width="1.30" fill="none"/><path d="M119.18,36.28 V52.64 M115.78,36.28 H122.58 M115.78,52.64 H122.58" stroke="#FF0080" stroke-width="1.30" fill="none"/><path d="M149.42,24.53 V56.06 M146.02,24.53 H152.82 M146.02,56.06 H152.82" stroke="#FF0080" stroke-width="1.30" fill="none"/><path d="M179.66,18.14 V50.85 M176.26,18.14 H183.06 M176.26,50.85 H183.06" stroke="#FF0080" stroke-width="1.30" fill="none"/><path d="M209.90,12.34 V47.43 M206.50,12.34 H213.30 M206.50,47.43 H213.30" stroke="#FF0080" stroke-width="1.30" fill="none"/><path d="M240.14,12.34 V38.81 M236.74,12.34 H243.54 M236.74,38.81 H243.54" stroke="#FF0080" stroke-width="1.30" fill="none"/><path d="M270.38,1.19 V47.28 M266.98,1.19 H273.78 M266.98,47.28 H273.78" stroke="#FF0080" stroke-width="1.30" fill="none"/>
</g>
<g clip-path="url(#cb)">
<path d="M301.00,312.71 C301.24,300.32 301.48,288.17 301.72,275.54 C301.96,262.90 302.21,245.14 302.45,236.88 C302.93,220.36 303.41,217.28 303.89,202.67 C304.38,188.07 304.86,151.80 305.34,141.71 C306.31,121.52 307.27,120.00 308.24,104.53 C309.20,89.07 310.17,63.39 311.13,42.82" stroke="#808080" stroke-width="1.40" fill="none"/><path d="M301.00,309.74 C301.24,296.36 301.48,284.25 301.72,269.59 C301.96,254.93 302.21,230.60 302.45,220.97 C302.93,201.69 303.41,198.43 303.89,182.60 C304.38,166.77 304.86,131.56 305.34,120.30 C306.31,97.77 307.27,91.60 308.24,77.32 C309.20,63.05 310.17,48.87 311.13,34.64" stroke="#FF0000" stroke-width="1.40" fill="none"/><path d="M301.00,296.36 C301.24,289.91 301.48,284.33 301.72,277.02 C301.96,269.72 302.21,257.36 302.45,251.75 C302.93,240.51 303.41,238.18 303.89,227.95 C304.38,217.73 304.86,194.30 305.34,184.83 C306.31,165.89 307.27,154.79 308.24,144.98 C309.20,135.16 310.17,130.05 311.13,121.63 C312.10,113.21 313.06,101.34 314.03,94.12 C314.99,86.91 315.96,76.89 316.92,76.28 C323.19,72.35 329.47,73.04 335.74,71.52 C347.32,68.71 358.90,64.83 370.48,63.49 C382.06,62.15 393.64,61.90 405.22,60.82 C416.80,59.73 428.38,57.74 439.96,56.65 C451.54,55.57 463.12,55.21 474.70,53.97 C486.28,52.74 497.86,48.82 509.44,48.03 C521.02,47.23 532.60,47.04 544.18,46.54" stroke="#00FF00" stroke-width="1.40" fill="none"/><path d="M301.00,299.33 C301.24,290.41 301.48,281.23 301.72,272.56 C301.96,263.90 302.21,253.12 302.45,247.28 C302.93,235.62 303.41,232.99 303.89,222.01 C304.38,211.02 304.86,184.81 305.34,174.72 C306.31,154.53 307.27,143.24 308.24,132.93 C309.20,122.63 310.17,117.62 311.13,108.40 C312.10,99.18 313.06,83.61 314.03,76.73 C314.99,69.84 315.96,62.80 316.92,61.41 C323.19,52.37 329.47,50.18 335.74,49.07 C347.32,47.01 358.90,46.68 370.48,45.80 C382.06,44.91 393.64,44.43 405.22,43.57 C416.80,42.70 428.38,41.51 439.96,40.44 C451.54,39.38 463.12,38.15 474.70,37.17 C486.28,36.19 497.86,35.50 509.44,34.50 C521.02,33.49 532.60,32.22 544.18,31.08" stroke="#0000FF" stroke-width="1.40" fill="none"/><path d="M301.00,302.30 C301.24,295.36 301.48,288.89 301.72,281.49 C301.96,274.08 302.21,263.39 302.45,257.69 C302.93,246.30 303.41,242.86 303.89,232.41 C304.38,221.97 304.86,200.79 305.34,191.23 C306.31,172.09 307.27,158.97 308.24,149.59 C309.20,140.21 310.17,135.18 311.13,128.32 C312.10,121.47 313.06,115.75 314.03,108.40 C314.99,101.05 315.96,85.04 316.92,83.71 C323.19,75.10 329.47,74.15 335.74,72.86 C347.32,70.47 358.90,70.53 370.48,68.84 C382.06,67.16 393.64,64.23 405.22,62.00 C416.80,59.78 428.38,57.16 439.96,55.46 C451.54,53.77 463.12,52.84 474.70,51.30 C486.28,49.76 497.86,47.23 509.44,46.09 C521.02,44.96 532.60,44.41 544.18,43.57" stroke="#FF00FF" stroke-width="1.40" fill="none"/><path d="M301.00,306.76 C301.24,304.83 301.48,303.29 301.72,300.97 C301.96,298.64 302.21,293.11 302.45,292.19 C302.93,290.35 303.41,290.69 303.89,289.22 C304.38,287.74 304.86,282.38 305.34,280.59 C306.31,277.02 307.27,276.06 308.24,273.31 C309.20,270.56 310.17,267.66 311.13,263.79 C312.10,259.92 313.06,251.80 314.03,248.92 C314.99,246.04 315.96,243.47 316.92,242.82 C323.19,238.62 329.47,238.12 335.74,236.88 C347.32,234.57 358.90,232.87 370.48,232.12 C382.06,231.36 393.64,231.36 405.22,230.63 C416.80,229.90 428.38,227.55 439.96,226.47 C451.54,225.38 463.12,224.77 474.70,223.79 C486.28,222.81 497.86,221.25 509.44,220.52 C521.02,219.79 532.60,219.43 544.18,218.88" stroke="#800000" stroke-width="1.40" fill="none"/><path d="M301.00,314.20 C301.24,306.27 301.48,294.63 301.72,290.41 C301.96,286.19 302.21,282.74 302.45,281.78 C302.93,279.87 303.41,280.13 303.89,278.66 C304.38,277.19 304.86,271.81 305.34,271.23 C306.31,270.06 307.27,270.44 308.24,269.44 C309.20,268.44 310.17,264.07 311.13,259.92 C312.10,255.77 313.06,246.29 314.03,241.93 C314.99,237.58 315.96,232.31 316.92,231.67 C323.19,227.50 329.47,228.26 335.74,226.32 C347.32,222.73 358.90,218.24 370.48,214.27 C382.06,210.31 393.64,206.88 405.22,202.53 C416.80,198.17 428.38,190.73 439.96,187.80 C451.54,184.88 463.12,184.49 474.70,181.56 C486.28,178.63 497.86,172.06 509.44,166.69 C521.02,161.32 532.60,154.99 544.18,149.14" stroke="#800080" stroke-width="1.40" fill="none"/><circle cx="301.00" cy="312.71" r="3.45" fill="#fff" stroke="#000000" stroke-width="0.85"/><path d="M301.00,309.26 A3.45,3.45 0 0 1 301.00,316.16 Z" fill="#000000"/><circle cx="301.72" cy="275.54" r="3.45" fill="#fff" stroke="#000000" stroke-width="0.85"/><path d="M301.72,272.09 A3.45,3.45 0 0 1 301.72,278.99 Z" fill="#000000"/><circle cx="302.45" cy="236.88" r="3.45" fill="#fff" stroke="#000000" stroke-width="0.85"/><path d="M302.45,233.43 A3.45,3.45 0 0 1 302.45,240.33 Z" fill="#000000"/><circle cx="303.89" cy="202.67" r="3.45" fill="#fff" stroke="#000000" stroke-width="0.85"/><path d="M303.89,199.22 A3.45,3.45 0 0 1 303.89,206.12 Z" fill="#000000"/><circle cx="305.34" cy="141.71" r="3.45" fill="#fff" stroke="#000000" stroke-width="0.85"/><path d="M305.34,138.26 A3.45,3.45 0 0 1 305.34,145.16 Z" fill="#000000"/><circle cx="308.24" cy="104.53" r="3.45" fill="#fff" stroke="#000000" stroke-width="0.85"/><path d="M308.24,101.08 A3.45,3.45 0 0 1 308.24,107.98 Z" fill="#000000"/><circle cx="311.13" cy="42.82" r="3.45" fill="#fff" stroke="#000000" stroke-width="0.85"/><path d="M311.13,39.37 A3.45,3.45 0 0 1 311.13,46.27 Z" fill="#000000"/><circle cx="301.00" cy="309.74" r="3.45" fill="#fff" stroke="#FF0000" stroke-width="0.85"/><path d="M301.00,306.29 A3.45,3.45 0 0 1 301.00,313.19 Z" fill="#FF0000"/><circle cx="301.72" cy="269.59" r="3.45" fill="#fff" stroke="#FF0000" stroke-width="0.85"/><path d="M301.72,266.14 A3.45,3.45 0 0 1 301.72,273.04 Z" fill="#FF0000"/><circle cx="302.45" cy="220.97" r="3.45" fill="#fff" stroke="#FF0000" stroke-width="0.85"/><path d="M302.45,217.52 A3.45,3.45 0 0 1 302.45,224.42 Z" fill="#FF0000"/><circle cx="303.89" cy="182.60" r="3.45" fill="#fff" stroke="#FF0000" stroke-width="0.85"/><path d="M303.89,179.15 A3.45,3.45 0 0 1 303.89,186.05 Z" fill="#FF0000"/><circle cx="305.34" cy="120.30" r="3.45" fill="#fff" stroke="#FF0000" stroke-width="0.85"/><path d="M305.34,116.85 A3.45,3.45 0 0 1 305.34,123.75 Z" fill="#FF0000"/><circle cx="308.24" cy="77.32" r="3.45" fill="#fff" stroke="#FF0000" stroke-width="0.85"/><path d="M308.24,73.87 A3.45,3.45 0 0 1 308.24,80.77 Z" fill="#FF0000"/><circle cx="311.13" cy="34.64" r="3.45" fill="#fff" stroke="#FF0000" stroke-width="0.85"/><path d="M311.13,31.19 A3.45,3.45 0 0 1 311.13,38.09 Z" fill="#FF0000"/><circle cx="301.00" cy="296.36" r="3.45" fill="#fff" stroke="#00FF00" stroke-width="0.85"/><path d="M301.00,292.91 A3.45,3.45 0 0 1 301.00,299.81 Z" fill="#00FF00"/><circle cx="301.72" cy="277.02" r="3.45" fill="#fff" stroke="#00FF00" stroke-width="0.85"/><path d="M301.72,273.57 A3.45,3.45 0 0 1 301.72,280.47 Z" fill="#00FF00"/><circle cx="302.45" cy="251.75" r="3.45" fill="#fff" stroke="#00FF00" stroke-width="0.85"/><path d="M302.45,248.30 A3.45,3.45 0 0 1 302.45,255.20 Z" fill="#00FF00"/><circle cx="303.89" cy="227.95" r="3.45" fill="#fff" stroke="#00FF00" stroke-width="0.85"/><path d="M303.89,224.50 A3.45,3.45 0 0 1 303.89,231.40 Z" fill="#00FF00"/><circle cx="305.34" cy="184.83" r="3.45" fill="#fff" stroke="#00FF00" stroke-width="0.85"/><path d="M305.34,181.38 A3.45,3.45 0 0 1 305.34,188.28 Z" fill="#00FF00"/><circle cx="308.24" cy="144.98" r="3.45" fill="#fff" stroke="#00FF00" stroke-width="0.85"/><path d="M308.24,141.53 A3.45,3.45 0 0 1 308.24,148.43 Z" fill="#00FF00"/><circle cx="311.13" cy="121.63" r="3.45" fill="#fff" stroke="#00FF00" stroke-width="0.85"/><path d="M311.13,118.18 A3.45,3.45 0 0 1 311.13,125.08 Z" fill="#00FF00"/><circle cx="314.03" cy="94.12" r="3.45" fill="#fff" stroke="#00FF00" stroke-width="0.85"/><path d="M314.03,90.67 A3.45,3.45 0 0 1 314.03,97.57 Z" fill="#00FF00"/><circle cx="316.92" cy="76.28" r="3.45" fill="#fff" stroke="#00FF00" stroke-width="0.85"/><path d="M316.92,72.83 A3.45,3.45 0 0 1 316.92,79.73 Z" fill="#00FF00"/><circle cx="335.74" cy="71.52" r="3.45" fill="#fff" stroke="#00FF00" stroke-width="0.85"/><path d="M335.74,68.07 A3.45,3.45 0 0 1 335.74,74.97 Z" fill="#00FF00"/><circle cx="370.48" cy="63.49" r="3.45" fill="#fff" stroke="#00FF00" stroke-width="0.85"/><path d="M370.48,60.04 A3.45,3.45 0 0 1 370.48,66.94 Z" fill="#00FF00"/><circle cx="405.22" cy="60.82" r="3.45" fill="#fff" stroke="#00FF00" stroke-width="0.85"/><path d="M405.22,57.37 A3.45,3.45 0 0 1 405.22,64.27 Z" fill="#00FF00"/><circle cx="439.96" cy="56.65" r="3.45" fill="#fff" stroke="#00FF00" stroke-width="0.85"/><path d="M439.96,53.20 A3.45,3.45 0 0 1 439.96,60.10 Z" fill="#00FF00"/><circle cx="474.70" cy="53.97" r="3.45" fill="#fff" stroke="#00FF00" stroke-width="0.85"/><path d="M474.70,50.52 A3.45,3.45 0 0 1 474.70,57.42 Z" fill="#00FF00"/><circle cx="509.44" cy="48.03" r="3.45" fill="#fff" stroke="#00FF00" stroke-width="0.85"/><path d="M509.44,44.58 A3.45,3.45 0 0 1 509.44,51.48 Z" fill="#00FF00"/><circle cx="544.18" cy="46.54" r="3.45" fill="#fff" stroke="#00FF00" stroke-width="0.85"/><path d="M544.18,43.09 A3.45,3.45 0 0 1 544.18,49.99 Z" fill="#00FF00"/><circle cx="301.00" cy="299.33" r="3.45" fill="#fff" stroke="#0000FF" stroke-width="0.85"/><path d="M301.00,295.88 A3.45,3.45 0 0 1 301.00,302.78 Z" fill="#0000FF"/><circle cx="301.72" cy="272.56" r="3.45" fill="#fff" stroke="#0000FF" stroke-width="0.85"/><path d="M301.72,269.11 A3.45,3.45 0 0 1 301.72,276.01 Z" fill="#0000FF"/><circle cx="302.45" cy="247.28" r="3.45" fill="#fff" stroke="#0000FF" stroke-width="0.85"/><path d="M302.45,243.83 A3.45,3.45 0 0 1 302.45,250.73 Z" fill="#0000FF"/><circle cx="303.89" cy="222.01" r="3.45" fill="#fff" stroke="#0000FF" stroke-width="0.85"/><path d="M303.89,218.56 A3.45,3.45 0 0 1 303.89,225.46 Z" fill="#0000FF"/><circle cx="305.34" cy="174.72" r="3.45" fill="#fff" stroke="#0000FF" stroke-width="0.85"/><path d="M305.34,171.27 A3.45,3.45 0 0 1 305.34,178.17 Z" fill="#0000FF"/><circle cx="308.24" cy="132.93" r="3.45" fill="#fff" stroke="#0000FF" stroke-width="0.85"/><path d="M308.24,129.48 A3.45,3.45 0 0 1 308.24,136.38 Z" fill="#0000FF"/><circle cx="311.13" cy="108.40" r="3.45" fill="#fff" stroke="#0000FF" stroke-width="0.85"/><path d="M311.13,104.95 A3.45,3.45 0 0 1 311.13,111.85 Z" fill="#0000FF"/><circle cx="314.03" cy="76.73" r="3.45" fill="#fff" stroke="#0000FF" stroke-width="0.85"/><path d="M314.03,73.28 A3.45,3.45 0 0 1 314.03,80.18 Z" fill="#0000FF"/><circle cx="316.92" cy="61.41" r="3.45" fill="#fff" stroke="#0000FF" stroke-width="0.85"/><path d="M316.92,57.96 A3.45,3.45 0 0 1 316.92,64.86 Z" fill="#0000FF"/><circle cx="335.74" cy="49.07" r="3.45" fill="#fff" stroke="#0000FF" stroke-width="0.85"/><path d="M335.74,45.62 A3.45,3.45 0 0 1 335.74,52.52 Z" fill="#0000FF"/><circle cx="370.48" cy="45.80" r="3.45" fill="#fff" stroke="#0000FF" stroke-width="0.85"/><path d="M370.48,42.35 A3.45,3.45 0 0 1 370.48,49.25 Z" fill="#0000FF"/><circle cx="405.22" cy="43.57" r="3.45" fill="#fff" stroke="#0000FF" stroke-width="0.85"/><path d="M405.22,40.12 A3.45,3.45 0 0 1 405.22,47.02 Z" fill="#0000FF"/><circle cx="439.96" cy="40.44" r="3.45" fill="#fff" stroke="#0000FF" stroke-width="0.85"/><path d="M439.96,36.99 A3.45,3.45 0 0 1 439.96,43.89 Z" fill="#0000FF"/><circle cx="474.70" cy="37.17" r="3.45" fill="#fff" stroke="#0000FF" stroke-width="0.85"/><path d="M474.70,33.72 A3.45,3.45 0 0 1 474.70,40.62 Z" fill="#0000FF"/><circle cx="509.44" cy="34.50" r="3.45" fill="#fff" stroke="#0000FF" stroke-width="0.85"/><path d="M509.44,31.05 A3.45,3.45 0 0 1 509.44,37.95 Z" fill="#0000FF"/><circle cx="544.18" cy="31.08" r="3.45" fill="#fff" stroke="#0000FF" stroke-width="0.85"/><path d="M544.18,27.63 A3.45,3.45 0 0 1 544.18,34.53 Z" fill="#0000FF"/><circle cx="301.00" cy="302.30" r="3.45" fill="#fff" stroke="#FF00FF" stroke-width="0.85"/><path d="M301.00,298.85 A3.45,3.45 0 0 1 301.00,305.75 Z" fill="#FF00FF"/><circle cx="301.72" cy="281.49" r="3.45" fill="#fff" stroke="#FF00FF" stroke-width="0.85"/><path d="M301.72,278.04 A3.45,3.45 0 0 1 301.72,284.94 Z" fill="#FF00FF"/><circle cx="302.45" cy="257.69" r="3.45" fill="#fff" stroke="#FF00FF" stroke-width="0.85"/><path d="M302.45,254.24 A3.45,3.45 0 0 1 302.45,261.14 Z" fill="#FF00FF"/><circle cx="303.89" cy="232.41" r="3.45" fill="#fff" stroke="#FF00FF" stroke-width="0.85"/><path d="M303.89,228.96 A3.45,3.45 0 0 1 303.89,235.86 Z" fill="#FF00FF"/><circle cx="305.34" cy="191.23" r="3.45" fill="#fff" stroke="#FF00FF" stroke-width="0.85"/><path d="M305.34,187.78 A3.45,3.45 0 0 1 305.34,194.68 Z" fill="#FF00FF"/><circle cx="308.24" cy="149.59" r="3.45" fill="#fff" stroke="#FF00FF" stroke-width="0.85"/><path d="M308.24,146.14 A3.45,3.45 0 0 1 308.24,153.04 Z" fill="#FF00FF"/><circle cx="311.13" cy="128.32" r="3.45" fill="#fff" stroke="#FF00FF" stroke-width="0.85"/><path d="M311.13,124.87 A3.45,3.45 0 0 1 311.13,131.77 Z" fill="#FF00FF"/><circle cx="314.03" cy="108.40" r="3.45" fill="#fff" stroke="#FF00FF" stroke-width="0.85"/><path d="M314.03,104.95 A3.45,3.45 0 0 1 314.03,111.85 Z" fill="#FF00FF"/><circle cx="316.92" cy="83.71" r="3.45" fill="#fff" stroke="#FF00FF" stroke-width="0.85"/><path d="M316.92,80.26 A3.45,3.45 0 0 1 316.92,87.16 Z" fill="#FF00FF"/><circle cx="335.74" cy="72.86" r="3.45" fill="#fff" stroke="#FF00FF" stroke-width="0.85"/><path d="M335.74,69.41 A3.45,3.45 0 0 1 335.74,76.31 Z" fill="#FF00FF"/><circle cx="370.48" cy="68.84" r="3.45" fill="#fff" stroke="#FF00FF" stroke-width="0.85"/><path d="M370.48,65.39 A3.45,3.45 0 0 1 370.48,72.29 Z" fill="#FF00FF"/><circle cx="405.22" cy="62.00" r="3.45" fill="#fff" stroke="#FF00FF" stroke-width="0.85"/><path d="M405.22,58.55 A3.45,3.45 0 0 1 405.22,65.45 Z" fill="#FF00FF"/><circle cx="439.96" cy="55.46" r="3.45" fill="#fff" stroke="#FF00FF" stroke-width="0.85"/><path d="M439.96,52.01 A3.45,3.45 0 0 1 439.96,58.91 Z" fill="#FF00FF"/><circle cx="474.70" cy="51.30" r="3.45" fill="#fff" stroke="#FF00FF" stroke-width="0.85"/><path d="M474.70,47.85 A3.45,3.45 0 0 1 474.70,54.75 Z" fill="#FF00FF"/><circle cx="509.44" cy="46.09" r="3.45" fill="#fff" stroke="#FF00FF" stroke-width="0.85"/><path d="M509.44,42.64 A3.45,3.45 0 0 1 509.44,49.54 Z" fill="#FF00FF"/><circle cx="544.18" cy="43.57" r="3.45" fill="#fff" stroke="#FF00FF" stroke-width="0.85"/><path d="M544.18,40.12 A3.45,3.45 0 0 1 544.18,47.02 Z" fill="#FF00FF"/><circle cx="301.00" cy="306.76" r="3.45" fill="#fff" stroke="#800000" stroke-width="0.85"/><path d="M301.00,303.31 A3.45,3.45 0 0 1 301.00,310.21 Z" fill="#800000"/><circle cx="301.72" cy="300.97" r="3.45" fill="#fff" stroke="#800000" stroke-width="0.85"/><path d="M301.72,297.52 A3.45,3.45 0 0 1 301.72,304.42 Z" fill="#800000"/><circle cx="302.45" cy="292.19" r="3.45" fill="#fff" stroke="#800000" stroke-width="0.85"/><path d="M302.45,288.74 A3.45,3.45 0 0 1 302.45,295.64 Z" fill="#800000"/><circle cx="303.89" cy="289.22" r="3.45" fill="#fff" stroke="#800000" stroke-width="0.85"/><path d="M303.89,285.77 A3.45,3.45 0 0 1 303.89,292.67 Z" fill="#800000"/><circle cx="305.34" cy="280.59" r="3.45" fill="#fff" stroke="#800000" stroke-width="0.85"/><path d="M305.34,277.14 A3.45,3.45 0 0 1 305.34,284.04 Z" fill="#800000"/><circle cx="308.24" cy="273.31" r="3.45" fill="#fff" stroke="#800000" stroke-width="0.85"/><path d="M308.24,269.86 A3.45,3.45 0 0 1 308.24,276.76 Z" fill="#800000"/><circle cx="311.13" cy="263.79" r="3.45" fill="#fff" stroke="#800000" stroke-width="0.85"/><path d="M311.13,260.34 A3.45,3.45 0 0 1 311.13,267.24 Z" fill="#800000"/><circle cx="314.03" cy="248.92" r="3.45" fill="#fff" stroke="#800000" stroke-width="0.85"/><path d="M314.03,245.47 A3.45,3.45 0 0 1 314.03,252.37 Z" fill="#800000"/><circle cx="316.92" cy="242.82" r="3.45" fill="#fff" stroke="#800000" stroke-width="0.85"/><path d="M316.92,239.37 A3.45,3.45 0 0 1 316.92,246.27 Z" fill="#800000"/><circle cx="335.74" cy="236.88" r="3.45" fill="#fff" stroke="#800000" stroke-width="0.85"/><path d="M335.74,233.43 A3.45,3.45 0 0 1 335.74,240.33 Z" fill="#800000"/><circle cx="370.48" cy="232.12" r="3.45" fill="#fff" stroke="#800000" stroke-width="0.85"/><path d="M370.48,228.67 A3.45,3.45 0 0 1 370.48,235.57 Z" fill="#800000"/><circle cx="405.22" cy="230.63" r="3.45" fill="#fff" stroke="#800000" stroke-width="0.85"/><path d="M405.22,227.18 A3.45,3.45 0 0 1 405.22,234.08 Z" fill="#800000"/><circle cx="439.96" cy="226.47" r="3.45" fill="#fff" stroke="#800000" stroke-width="0.85"/><path d="M439.96,223.02 A3.45,3.45 0 0 1 439.96,229.92 Z" fill="#800000"/><circle cx="474.70" cy="223.79" r="3.45" fill="#fff" stroke="#800000" stroke-width="0.85"/><path d="M474.70,220.34 A3.45,3.45 0 0 1 474.70,227.24 Z" fill="#800000"/><circle cx="509.44" cy="220.52" r="3.45" fill="#fff" stroke="#800000" stroke-width="0.85"/><path d="M509.44,217.07 A3.45,3.45 0 0 1 509.44,223.97 Z" fill="#800000"/><circle cx="544.18" cy="218.88" r="3.45" fill="#fff" stroke="#800000" stroke-width="0.85"/><path d="M544.18,215.43 A3.45,3.45 0 0 1 544.18,222.33 Z" fill="#800000"/><circle cx="301.00" cy="314.20" r="3.45" fill="#fff" stroke="#800080" stroke-width="0.85"/><path d="M301.00,310.75 A3.45,3.45 0 0 1 301.00,317.65 Z" fill="#800080"/><circle cx="301.72" cy="290.41" r="3.45" fill="#fff" stroke="#800080" stroke-width="0.85"/><path d="M301.72,286.96 A3.45,3.45 0 0 1 301.72,293.86 Z" fill="#800080"/><circle cx="302.45" cy="281.78" r="3.45" fill="#fff" stroke="#800080" stroke-width="0.85"/><path d="M302.45,278.33 A3.45,3.45 0 0 1 302.45,285.23 Z" fill="#800080"/><circle cx="303.89" cy="278.66" r="3.45" fill="#fff" stroke="#800080" stroke-width="0.85"/><path d="M303.89,275.21 A3.45,3.45 0 0 1 303.89,282.11 Z" fill="#800080"/><circle cx="305.34" cy="271.23" r="3.45" fill="#fff" stroke="#800080" stroke-width="0.85"/><path d="M305.34,267.78 A3.45,3.45 0 0 1 305.34,274.68 Z" fill="#800080"/><circle cx="308.24" cy="269.44" r="3.45" fill="#fff" stroke="#800080" stroke-width="0.85"/><path d="M308.24,265.99 A3.45,3.45 0 0 1 308.24,272.89 Z" fill="#800080"/><circle cx="311.13" cy="259.92" r="3.45" fill="#fff" stroke="#800080" stroke-width="0.85"/><path d="M311.13,256.47 A3.45,3.45 0 0 1 311.13,263.37 Z" fill="#800080"/><circle cx="314.03" cy="241.93" r="3.45" fill="#fff" stroke="#800080" stroke-width="0.85"/><path d="M314.03,238.48 A3.45,3.45 0 0 1 314.03,245.38 Z" fill="#800080"/><circle cx="316.92" cy="231.67" r="3.45" fill="#fff" stroke="#800080" stroke-width="0.85"/><path d="M316.92,228.22 A3.45,3.45 0 0 1 316.92,235.12 Z" fill="#800080"/><circle cx="335.74" cy="226.32" r="3.45" fill="#fff" stroke="#800080" stroke-width="0.85"/><path d="M335.74,222.87 A3.45,3.45 0 0 1 335.74,229.77 Z" fill="#800080"/><circle cx="370.48" cy="214.27" r="3.45" fill="#fff" stroke="#800080" stroke-width="0.85"/><path d="M370.48,210.82 A3.45,3.45 0 0 1 370.48,217.72 Z" fill="#800080"/><circle cx="405.22" cy="202.53" r="3.45" fill="#fff" stroke="#800080" stroke-width="0.85"/><path d="M405.22,199.08 A3.45,3.45 0 0 1 405.22,205.98 Z" fill="#800080"/><circle cx="439.96" cy="187.80" r="3.45" fill="#fff" stroke="#800080" stroke-width="0.85"/><path d="M439.96,184.35 A3.45,3.45 0 0 1 439.96,191.25 Z" fill="#800080"/><circle cx="474.70" cy="181.56" r="3.45" fill="#fff" stroke="#800080" stroke-width="0.85"/><path d="M474.70,178.11 A3.45,3.45 0 0 1 474.70,185.01 Z" fill="#800080"/><circle cx="509.44" cy="166.69" r="3.45" fill="#fff" stroke="#800080" stroke-width="0.85"/><path d="M509.44,163.24 A3.45,3.45 0 0 1 509.44,170.14 Z" fill="#800080"/><circle cx="544.18" cy="149.14" r="3.45" fill="#fff" stroke="#800080" stroke-width="0.85"/><path d="M544.18,145.69 A3.45,3.45 0 0 1 544.18,152.59 Z" fill="#800080"/><path d="M301.72,263.64 V287.43 M298.32,263.64 H305.12 M298.32,287.43 H305.12" stroke="#000000" stroke-width="1.30" fill="none"/><path d="M302.45,226.47 V247.28 M299.05,226.47 H305.85 M299.05,247.28 H305.85" stroke="#000000" stroke-width="1.30" fill="none"/><path d="M303.89,189.29 V216.06 M300.50,189.29 H307.29 M300.50,216.06 H307.29" stroke="#000000" stroke-width="1.30" fill="none"/><path d="M305.34,123.86 V159.55 M301.94,123.86 H308.74 M301.94,159.55 H308.74" stroke="#000000" stroke-width="1.30" fill="none"/><path d="M308.24,86.69 V122.38 M304.84,86.69 H311.64 M304.84,122.38 H311.64" stroke="#000000" stroke-width="1.30" fill="none"/><path d="M311.13,30.93 V54.72 M307.73,30.93 H314.53 M307.73,54.72 H314.53" stroke="#000000" stroke-width="1.30" fill="none"/><path d="M301.72,260.67 V278.51 M298.32,260.67 H305.12 M298.32,278.51 H305.12" stroke="#FF0000" stroke-width="1.30" fill="none"/><path d="M302.45,209.07 V232.86 M299.05,209.07 H305.85 M299.05,232.86 H305.85" stroke="#FF0000" stroke-width="1.30" fill="none"/><path d="M303.89,169.22 V195.98 M300.50,169.22 H307.29 M300.50,195.98 H307.29" stroke="#FF0000" stroke-width="1.30" fill="none"/><path d="M305.34,95.02 V145.57 M301.94,95.02 H308.74 M301.94,145.57 H308.74" stroke="#FF0000" stroke-width="1.30" fill="none"/><path d="M308.24,62.45 V92.19 M304.84,62.45 H311.64 M304.84,92.19 H311.64" stroke="#FF0000" stroke-width="1.30" fill="none"/><path d="M311.13,24.23 V45.05 M307.73,24.23 H314.53 M307.73,45.05 H314.53" stroke="#FF0000" stroke-width="1.30" fill="none"/><path d="M301.00,293.38 V299.33 M297.60,293.38 H304.40 M297.60,299.33 H304.40" stroke="#00FF00" stroke-width="1.30" fill="none"/><path d="M301.72,271.08 V282.97 M298.32,271.08 H305.12 M298.32,282.97 H305.12" stroke="#00FF00" stroke-width="1.30" fill="none"/><path d="M302.45,244.31 V259.18 M299.05,244.31 H305.85 M299.05,259.18 H305.85" stroke="#00FF00" stroke-width="1.30" fill="none"/><path d="M303.89,219.03 V236.88 M300.50,219.03 H307.29 M300.50,236.88 H307.29" stroke="#00FF00" stroke-width="1.30" fill="none"/><path d="M305.34,174.42 V195.24 M301.94,174.42 H308.74 M301.94,195.24 H308.74" stroke="#00FF00" stroke-width="1.30" fill="none"/><path d="M308.24,133.08 V156.88 M304.84,133.08 H311.64 M304.84,156.88 H311.64" stroke="#00FF00" stroke-width="1.30" fill="none"/><path d="M311.13,108.25 V135.02 M307.73,108.25 H314.53 M307.73,135.02 H314.53" stroke="#00FF00" stroke-width="1.30" fill="none"/><path d="M314.03,80.74 V107.51 M310.63,80.74 H317.43 M310.63,107.51 H317.43" stroke="#00FF00" stroke-width="1.30" fill="none"/><path d="M316.92,61.41 V91.15 M313.52,61.41 H320.32 M313.52,91.15 H320.32" stroke="#00FF00" stroke-width="1.30" fill="none"/><path d="M335.74,55.16 V87.88 M332.34,55.16 H339.14 M332.34,87.88 H339.14" stroke="#00FF00" stroke-width="1.30" fill="none"/><path d="M370.48,47.13 V79.85 M367.08,47.13 H373.88 M367.08,79.85 H373.88" stroke="#00FF00" stroke-width="1.30" fill="none"/><path d="M405.22,42.97 V78.66 M401.82,42.97 H408.62 M401.82,78.66 H408.62" stroke="#00FF00" stroke-width="1.30" fill="none"/><path d="M439.96,38.81 V74.50 M436.56,38.81 H443.36 M436.56,74.50 H443.36" stroke="#00FF00" stroke-width="1.30" fill="none"/><path d="M474.70,37.62 V70.33 M471.30,37.62 H478.10 M471.30,70.33 H478.10" stroke="#00FF00" stroke-width="1.30" fill="none"/><path d="M509.44,33.90 V62.15 M506.04,33.90 H512.84 M506.04,62.15 H512.84" stroke="#00FF00" stroke-width="1.30" fill="none"/><path d="M544.18,26.17 V66.91 M540.78,26.17 H547.58 M540.78,66.91 H547.58" stroke="#00FF00" stroke-width="1.30" fill="none"/><path d="M301.00,296.36 V302.30 M297.60,296.36 H304.40 M297.60,302.30 H304.40" stroke="#0000FF" stroke-width="1.30" fill="none"/><path d="M301.72,266.62 V278.51 M298.32,266.62 H305.12 M298.32,278.51 H305.12" stroke="#0000FF" stroke-width="1.30" fill="none"/><path d="M302.45,239.85 V254.72 M299.05,239.85 H305.85 M299.05,254.72 H305.85" stroke="#0000FF" stroke-width="1.30" fill="none"/><path d="M303.89,213.08 V230.93 M300.50,213.08 H307.29 M300.50,230.93 H307.29" stroke="#0000FF" stroke-width="1.30" fill="none"/><path d="M305.34,164.31 V185.13 M301.94,164.31 H308.74 M301.94,185.13 H308.74" stroke="#0000FF" stroke-width="1.30" fill="none"/><path d="M308.24,121.04 V144.83 M304.84,121.04 H311.64 M304.84,144.83 H311.64" stroke="#0000FF" stroke-width="1.30" fill="none"/><path d="M311.13,95.02 V121.78 M307.73,95.02 H314.53 M307.73,121.78 H314.53" stroke="#0000FF" stroke-width="1.30" fill="none"/><path d="M314.03,63.34 V90.11 M310.63,63.34 H317.43 M310.63,90.11 H317.43" stroke="#0000FF" stroke-width="1.30" fill="none"/><path d="M316.92,51.00 V71.82 M313.52,51.00 H320.32 M313.52,71.82 H320.32" stroke="#0000FF" stroke-width="1.30" fill="none"/><path d="M335.74,32.71 V65.42 M332.34,32.71 H339.14 M332.34,65.42 H339.14" stroke="#0000FF" stroke-width="1.30" fill="none"/><path d="M370.48,31.67 V59.92 M367.08,31.67 H373.88 M367.08,59.92 H373.88" stroke="#0000FF" stroke-width="1.30" fill="none"/><path d="M405.22,26.76 V60.37 M401.82,26.76 H408.62 M401.82,60.37 H408.62" stroke="#0000FF" stroke-width="1.30" fill="none"/><path d="M439.96,21.41 V59.48 M436.56,21.41 H443.36 M436.56,59.48 H443.36" stroke="#0000FF" stroke-width="1.30" fill="none"/><path d="M474.70,21.56 V52.79 M471.30,21.56 H478.10 M471.30,52.79 H478.10" stroke="#0000FF" stroke-width="1.30" fill="none"/><path d="M509.44,19.63 V49.37 M506.04,19.63 H512.84 M506.04,49.37 H512.84" stroke="#0000FF" stroke-width="1.30" fill="none"/><path d="M544.18,15.02 V47.13 M540.78,15.02 H547.58 M540.78,47.13 H547.58" stroke="#0000FF" stroke-width="1.30" fill="none"/><path d="M301.00,299.33 V305.28 M297.60,299.33 H304.40 M297.60,305.28 H304.40" stroke="#FF00FF" stroke-width="1.30" fill="none"/><path d="M301.72,275.54 V287.43 M298.32,275.54 H305.12 M298.32,287.43 H305.12" stroke="#FF00FF" stroke-width="1.30" fill="none"/><path d="M302.45,250.26 V265.13 M299.05,250.26 H305.85 M299.05,265.13 H305.85" stroke="#FF00FF" stroke-width="1.30" fill="none"/><path d="M303.89,223.49 V241.34 M300.50,223.49 H307.29 M300.50,241.34 H307.29" stroke="#FF00FF" stroke-width="1.30" fill="none"/><path d="M305.34,180.82 V201.63 M301.94,180.82 H308.74 M301.94,201.63 H308.74" stroke="#FF00FF" stroke-width="1.30" fill="none"/><path d="M308.24,137.69 V161.49 M304.84,137.69 H311.64 M304.84,161.49 H311.64" stroke="#FF00FF" stroke-width="1.30" fill="none"/><path d="M311.13,100.07 V156.58 M307.73,100.07 H314.53 M307.73,156.58 H314.53" stroke="#FF00FF" stroke-width="1.30" fill="none"/><path d="M314.03,95.02 V121.78 M310.63,95.02 H317.43 M310.63,121.78 H317.43" stroke="#FF00FF" stroke-width="1.30" fill="none"/><path d="M316.92,68.84 V98.58 M313.52,68.84 H320.32 M313.52,98.58 H320.32" stroke="#FF00FF" stroke-width="1.30" fill="none"/><path d="M335.74,55.02 V90.70 M332.34,55.02 H339.14 M332.34,90.70 H339.14" stroke="#FF00FF" stroke-width="1.30" fill="none"/><path d="M370.48,49.81 V87.88 M367.08,49.81 H373.88 M367.08,87.88 H373.88" stroke="#FF00FF" stroke-width="1.30" fill="none"/><path d="M405.22,46.54 V77.47 M401.82,46.54 H408.62 M401.82,77.47 H408.62" stroke="#FF00FF" stroke-width="1.30" fill="none"/><path d="M439.96,38.06 V72.86 M436.56,38.06 H443.36 M436.56,72.86 H443.36" stroke="#FF00FF" stroke-width="1.30" fill="none"/><path d="M474.70,33.16 V69.44 M471.30,33.16 H478.10 M471.30,69.44 H478.10" stroke="#FF00FF" stroke-width="1.30" fill="none"/><path d="M509.44,30.03 V62.15 M506.04,30.03 H512.84 M506.04,62.15 H512.84" stroke="#FF00FF" stroke-width="1.30" fill="none"/><path d="M544.18,25.57 V61.56 M540.78,25.57 H547.58 M540.78,61.56 H547.58" stroke="#FF00FF" stroke-width="1.30" fill="none"/><path d="M301.00,303.79 V309.74 M297.60,303.79 H304.40 M297.60,309.74 H304.40" stroke="#800000" stroke-width="1.30" fill="none"/><path d="M301.72,297.99 V303.94 M298.32,297.99 H305.12 M298.32,303.94 H305.12" stroke="#800000" stroke-width="1.30" fill="none"/><path d="M302.45,287.73 V296.65 M299.05,287.73 H305.85 M299.05,296.65 H305.85" stroke="#800000" stroke-width="1.30" fill="none"/><path d="M303.89,284.76 V293.68 M300.50,284.76 H307.29 M300.50,293.68 H307.29" stroke="#800000" stroke-width="1.30" fill="none"/><path d="M305.34,276.13 V285.05 M301.94,276.13 H308.74 M301.94,285.05 H308.74" stroke="#800000" stroke-width="1.30" fill="none"/><path d="M308.24,268.85 V277.77 M304.84,268.85 H311.64 M304.84,277.77 H311.64" stroke="#800000" stroke-width="1.30" fill="none"/><path d="M311.13,259.33 V268.25 M307.73,259.33 H314.53 M307.73,268.25 H314.53" stroke="#800000" stroke-width="1.30" fill="none"/><path d="M314.03,244.46 V253.38 M310.63,244.46 H317.43 M310.63,253.38 H317.43" stroke="#800000" stroke-width="1.30" fill="none"/><path d="M316.92,238.36 V247.28 M313.52,238.36 H320.32 M313.52,247.28 H320.32" stroke="#800000" stroke-width="1.30" fill="none"/><path d="M335.74,235.39 V238.36 M332.34,235.39 H339.14 M332.34,238.36 H339.14" stroke="#800000" stroke-width="1.30" fill="none"/><path d="M370.48,226.17 V238.07 M367.08,226.17 H373.88 M367.08,238.07 H373.88" stroke="#800000" stroke-width="1.30" fill="none"/><path d="M405.22,224.68 V236.58 M401.82,224.68 H408.62 M401.82,236.58 H408.62" stroke="#800000" stroke-width="1.30" fill="none"/><path d="M439.96,221.26 V231.67 M436.56,221.26 H443.36 M436.56,231.67 H443.36" stroke="#800000" stroke-width="1.30" fill="none"/><path d="M474.70,220.82 V226.76 M471.30,220.82 H478.10 M471.30,226.76 H478.10" stroke="#800000" stroke-width="1.30" fill="none"/><path d="M509.44,215.02 V226.02 M506.04,215.02 H512.84 M506.04,226.02 H512.84" stroke="#800000" stroke-width="1.30" fill="none"/><path d="M544.18,213.23 V224.53 M540.78,213.23 H547.58 M540.78,224.53 H547.58" stroke="#800000" stroke-width="1.30" fill="none"/><path d="M301.00,311.23 V317.17 M297.60,311.23 H304.40 M297.60,317.17 H304.40" stroke="#800080" stroke-width="1.30" fill="none"/><path d="M301.72,287.43 V293.38 M298.32,287.43 H305.12 M298.32,293.38 H305.12" stroke="#800080" stroke-width="1.30" fill="none"/><path d="M302.45,277.32 V286.24 M299.05,277.32 H305.85 M299.05,286.24 H305.85" stroke="#800080" stroke-width="1.30" fill="none"/><path d="M303.89,274.20 V283.12 M300.50,274.20 H307.29 M300.50,283.12 H307.29" stroke="#800080" stroke-width="1.30" fill="none"/><path d="M305.34,266.76 V275.69 M301.94,266.76 H308.74 M301.94,275.69 H308.74" stroke="#800080" stroke-width="1.30" fill="none"/><path d="M308.24,264.98 V273.90 M304.84,264.98 H311.64 M304.84,273.90 H311.64" stroke="#800080" stroke-width="1.30" fill="none"/><path d="M311.13,255.46 V264.39 M307.73,255.46 H314.53 M307.73,264.39 H314.53" stroke="#800080" stroke-width="1.30" fill="none"/><path d="M314.03,237.47 V246.39 M310.63,237.47 H317.43 M310.63,246.39 H317.43" stroke="#800080" stroke-width="1.30" fill="none"/><path d="M316.92,227.21 V236.13 M313.52,227.21 H320.32 M313.52,236.13 H320.32" stroke="#800080" stroke-width="1.30" fill="none"/><path d="M335.74,223.49 V229.14 M332.34,223.49 H339.14 M332.34,229.14 H339.14" stroke="#800080" stroke-width="1.30" fill="none"/><path d="M370.48,208.33 V220.22 M367.08,208.33 H373.88 M367.08,220.22 H373.88" stroke="#800080" stroke-width="1.30" fill="none"/><path d="M405.22,198.07 V206.99 M401.82,198.07 H408.62 M401.82,206.99 H408.62" stroke="#800080" stroke-width="1.30" fill="none"/><path d="M439.96,181.86 V193.75 M436.56,181.86 H443.36 M436.56,193.75 H443.36" stroke="#800080" stroke-width="1.30" fill="none"/><path d="M474.70,178.59 V184.53 M471.30,178.59 H478.10 M471.30,184.53 H478.10" stroke="#800080" stroke-width="1.30" fill="none"/><path d="M509.44,156.28 V177.10 M506.04,156.28 H512.84 M506.04,177.10 H512.84" stroke="#800080" stroke-width="1.30" fill="none"/><path d="M544.18,134.27 V164.01 M540.78,134.27 H547.58 M540.78,164.01 H547.58" stroke="#800080" stroke-width="1.30" fill="none"/>
</g>
<path d="M179.8,252.90H202.8" stroke="#222222" stroke-width="1.4"/>
<circle cx="191.30" cy="252.90" r="3.40" fill="#fff" stroke="#000000" stroke-width="1.00"/><path d="M191.30,249.50 A3.40,3.40 0 0 1 191.30,256.30 Z" fill="#000000"/>
<text x="205.7" y="256.40" style="font-family:'Liberation Sans', sans-serif;font-size:9.8px;fill:#222;stroke:#222;stroke-width:0.2px">TPS</text>
<path d="M179.8,265.03H202.8" stroke="#808000" stroke-width="1.4"/>
<circle cx="191.30" cy="265.03" r="3.40" fill="#fff" stroke="#808000" stroke-width="1.00"/><path d="M191.30,261.63 A3.40,3.40 0 0 1 191.30,268.43 Z" fill="#808000"/>
<text x="205.7" y="268.53" style="font-family:'Liberation Sans', sans-serif;font-size:9.8px;fill:#222;stroke:#222;stroke-width:0.2px">TPS/ENR</text>
<path d="M179.8,277.16H202.8" stroke="#000080" stroke-width="1.4"/>
<circle cx="191.30" cy="277.16" r="3.40" fill="#fff" stroke="#000080" stroke-width="1.00"/><path d="M191.30,273.76 A3.40,3.40 0 0 1 191.30,280.56 Z" fill="#000080"/>
<text x="205.7" y="280.66" style="font-family:'Liberation Sans', sans-serif;font-size:9.8px;fill:#222;stroke:#222;stroke-width:0.2px">TPS/ENR/6.9% N</text>
<path d="M179.8,289.29H202.8" stroke="#008000" stroke-width="1.4"/>
<circle cx="191.30" cy="289.29" r="3.40" fill="#fff" stroke="#008000" stroke-width="1.00"/><path d="M191.30,285.89 A3.40,3.40 0 0 1 191.30,292.69 Z" fill="#008000"/>
<text x="205.7" y="292.79" style="font-family:'Liberation Sans', sans-serif;font-size:9.8px;fill:#222;stroke:#222;stroke-width:0.2px">TPS/ENR/10% N</text>
<path d="M179.8,301.42H202.8" stroke="#8000FF" stroke-width="1.4"/>
<circle cx="191.30" cy="301.42" r="3.40" fill="#fff" stroke="#8000FF" stroke-width="1.00"/><path d="M191.30,298.02 A3.40,3.40 0 0 1 191.30,304.82 Z" fill="#8000FF"/>
<text x="205.7" y="304.92" style="font-family:'Liberation Sans', sans-serif;font-size:9.8px;fill:#222;stroke:#222;stroke-width:0.2px">TPS/ENR/15% N</text>
<path d="M179.8,313.55H202.8" stroke="#FF0080" stroke-width="1.4"/>
<circle cx="191.30" cy="313.55" r="3.40" fill="#fff" stroke="#FF0080" stroke-width="1.00"/><path d="M191.30,310.15 A3.40,3.40 0 0 1 191.30,316.95 Z" fill="#FF0080"/>
<text x="205.7" y="317.05" style="font-family:'Liberation Sans', sans-serif;font-size:9.8px;fill:#222;stroke:#222;stroke-width:0.2px">TPS/ENR/20% N</text>
<path d="M414.1,241.10H436.6" stroke="#808080" stroke-width="1.4"/>
<circle cx="425.20" cy="241.10" r="3.40" fill="#fff" stroke="#000000" stroke-width="1.00"/><path d="M425.20,237.70 A3.40,3.40 0 0 1 425.20,244.50 Z" fill="#000000"/>
<text x="439.4" y="244.50" style="font-family:'Liberation Sans', sans-serif;font-size:9.95px;fill:#222;stroke:#222;stroke-width:0.2px">TPS</text>
<path d="M414.1,253.35H436.6" stroke="#FF0000" stroke-width="1.4"/>
<circle cx="425.20" cy="253.35" r="3.40" fill="#fff" stroke="#FF0000" stroke-width="1.00"/><path d="M425.20,249.95 A3.40,3.40 0 0 1 425.20,256.75 Z" fill="#FF0000"/>
<text x="439.4" y="256.75" style="font-family:'Liberation Sans', sans-serif;font-size:9.95px;fill:#222;stroke:#222;stroke-width:0.2px">TPS/15% N</text>
<path d="M414.1,265.60H436.6" stroke="#00FF00" stroke-width="1.4"/>
<circle cx="425.20" cy="265.60" r="3.40" fill="#fff" stroke="#00FF00" stroke-width="1.00"/><path d="M425.20,262.20 A3.40,3.40 0 0 1 425.20,269.00 Z" fill="#00FF00"/>
<text x="439.4" y="269.00" style="font-family:'Liberation Sans', sans-serif;font-size:9.95px;fill:#222;stroke:#222;stroke-width:0.2px">[TPS/ENR]/15% N</text>
<path d="M414.1,277.85H436.6" stroke="#0000FF" stroke-width="1.4"/>
<circle cx="425.20" cy="277.85" r="3.40" fill="#fff" stroke="#0000FF" stroke-width="1.00"/><path d="M425.20,274.45 A3.40,3.40 0 0 1 425.20,281.25 Z" fill="#0000FF"/>
<text x="439.4" y="281.25" style="font-family:'Liberation Sans', sans-serif;font-size:9.95px;fill:#222;stroke:#222;stroke-width:0.2px">[TPS/15% N]/ENR</text>
<path d="M414.1,290.10H436.6" stroke="#FF00FF" stroke-width="1.4"/>
<circle cx="425.20" cy="290.10" r="3.40" fill="#fff" stroke="#FF00FF" stroke-width="1.00"/><path d="M425.20,286.70 A3.40,3.40 0 0 1 425.20,293.50 Z" fill="#FF00FF"/>
<text x="439.4" y="293.50" style="font-family:'Liberation Sans', sans-serif;font-size:9.95px;fill:#222;stroke:#222;stroke-width:0.2px">[TPS/15% N]/[ENR/15% N]</text>
<path d="M414.1,302.35H436.6" stroke="#800000" stroke-width="1.4"/>
<circle cx="425.20" cy="302.35" r="3.40" fill="#fff" stroke="#800000" stroke-width="1.00"/><path d="M425.20,298.95 A3.40,3.40 0 0 1 425.20,305.75 Z" fill="#800000"/>
<text x="439.4" y="305.75" style="font-family:'Liberation Sans', sans-serif;font-size:9.95px;fill:#222;stroke:#222;stroke-width:0.2px">ENR</text>
<path d="M414.1,314.60H436.6" stroke="#800080" stroke-width="1.4"/>
<circle cx="425.20" cy="314.60" r="3.40" fill="#fff" stroke="#800080" stroke-width="1.00"/><path d="M425.20,311.20 A3.40,3.40 0 0 1 425.20,318.00 Z" fill="#800080"/>
<text x="439.4" y="318.00" style="font-family:'Liberation Sans', sans-serif;font-size:9.95px;fill:#222;stroke:#222;stroke-width:0.2px">ENR/15% N</text>
<rect x="566" y="0" width="119" height="1" fill="#e2e2e2"/><rect x="684" y="0" width="1" height="162" fill="#d4d4d4"/>
<path d="M566.8,1.5H683.5" stroke="#6a6a6a" stroke-width="1" fill="none"/>
<path d="M683.5,1.5V161.3" stroke="#8f8f8f" stroke-width="1" fill="none"/>
<path d="M566.8,1.5V161.3" stroke="#b4b4b4" stroke-width="1" fill="none"/>
<path d="M566.8,161.3H683.5" stroke="#8a8a8a" stroke-width="1" fill="none"/>
<path d="M567.30,161.3V164 M588.40,161.3V164 M609.50,161.3V164 M630.60,161.3V164 M651.70,161.3V164 M672.80,161.3V164 " stroke="#8a8a8a" stroke-width="0.8" fill="none"/>
<text x="568.3" y="7.8" style="font-family:'Liberation Sans', sans-serif;font-size:7px;font-weight:bold;fill:#333">(A)</text>
<clipPath id="csa"><rect x="567.3" y="1.8" width="115.6" height="159"/></clipPath>
<g clip-path="url(#csa)">
<path d="M567.30,158.70 C569.06,154.87 570.82,152.32 572.57,147.21 C574.33,142.11 576.09,129.20 577.85,124.23 C581.37,114.30 584.88,111.78 588.40,103.55 C591.92,95.32 595.43,78.07 598.95,72.91 C605.98,62.58 613.02,61.76 620.05,53.76 C627.08,45.76 634.12,32.31 641.15,21.59" stroke="#333" stroke-width="0.60" fill="none"/><path d="M567.30,157.17 C569.06,155.89 570.82,155.51 572.57,153.34 C574.33,151.17 576.09,135.28 577.85,131.89 C581.37,125.12 584.88,124.27 588.40,119.64 C591.92,115.00 595.43,107.26 598.95,103.55 C605.98,96.13 613.02,93.59 620.05,87.46 C627.08,81.34 634.12,71.50 641.15,66.02 C648.18,60.54 655.22,53.84 662.25,52.69 C669.28,51.53 676.32,50.79 683.35,50.70 C729.07,50.08 774.78,50.30 820.50,49.93 C904.90,49.24 989.30,46.79 1073.70,45.10 C1158.10,43.42 1242.50,41.89 1326.90,39.82 C1411.30,37.75 1495.70,34.00 1580.10,32.31 C1664.50,30.62 1748.90,29.71 1833.30,28.48 C1917.70,27.26 2002.10,25.99 2086.50,24.96 C2170.90,23.93 2255.30,23.12 2339.70,22.20" stroke="#808000" stroke-width="0.60" fill="none"/><path d="M567.30,158.70 C569.06,153.85 570.82,149.12 572.57,144.15 C574.33,139.17 576.09,131.63 577.85,128.83 C581.37,123.23 584.88,122.39 588.40,118.10 C591.92,113.81 595.43,106.14 598.95,102.02 C605.98,93.78 613.02,89.25 620.05,82.87 C627.08,76.48 634.12,68.94 641.15,63.72 C648.18,58.50 655.22,51.66 662.25,50.47 C669.28,49.27 676.32,48.87 683.35,48.40 C729.07,45.31 774.78,43.21 820.50,42.27 C904.90,40.53 989.30,40.31 1073.70,39.13 C1158.10,37.95 1242.50,36.74 1326.90,35.07 C1411.30,33.40 1495.70,30.01 1580.10,28.48 C1664.50,26.95 1748.90,26.04 1833.30,24.96 C1917.70,23.88 2002.10,22.50 2086.50,21.97 C2170.90,21.44 2255.30,21.26 2339.70,20.90" stroke="#000080" stroke-width="0.60" fill="none"/><path d="M567.30,158.70 C569.06,153.34 570.82,147.85 572.57,142.62 C574.33,137.38 576.09,130.09 577.85,127.30 C581.37,121.70 584.88,120.86 588.40,116.57 C591.92,112.28 595.43,104.87 598.95,100.49 C605.98,91.71 613.02,85.92 620.05,79.04 C627.08,72.15 634.12,64.35 641.15,59.12 C648.18,53.89 655.22,48.35 662.25,46.18 C669.28,44.00 676.32,42.13 683.35,41.81 C729.07,39.76 774.78,39.99 820.50,39.13 C904.90,37.55 989.30,35.34 1073.70,34.61 C1158.10,33.88 1242.50,33.94 1326.90,33.15 C1411.30,32.37 1495.70,28.76 1580.10,27.10 C1664.50,25.45 1748.90,23.92 1833.30,22.89 C1917.70,21.86 2002.10,21.03 2086.50,20.44 C2170.90,19.85 2255.30,19.52 2339.70,19.06" stroke="#008000" stroke-width="0.60" fill="none"/><path d="M567.30,157.94 C569.06,152.06 570.82,145.63 572.57,140.32 C574.33,135.00 576.09,128.65 577.85,125.76 C581.37,119.99 584.88,118.83 588.40,114.27 C591.92,109.72 595.43,102.07 598.95,97.42 C605.98,88.12 613.02,81.50 620.05,74.44 C627.08,67.39 634.12,59.72 641.15,54.83 C648.18,49.94 655.22,45.59 662.25,43.11 C669.28,40.64 676.32,37.89 683.35,37.67 C729.07,36.30 774.78,36.68 820.50,35.99 C904.90,34.72 989.30,32.00 1073.70,30.70 C1158.10,29.41 1242.50,28.50 1326.90,27.64 C1411.30,26.78 1495.70,26.36 1580.10,25.42 C1664.50,24.47 1748.90,22.93 1833.30,21.51 C1917.70,20.09 2002.10,18.07 2086.50,16.84 C2170.90,15.61 2255.30,14.80 2339.70,13.77" stroke="#8000FF" stroke-width="0.60" fill="none"/><path d="M567.30,157.94 C569.06,151.55 570.82,143.95 572.57,138.79 C574.33,133.62 576.09,128.98 577.85,125.76 C581.37,119.34 584.88,116.42 588.40,111.21 C591.92,106.00 595.43,99.17 598.95,94.36 C605.98,84.73 613.02,77.01 620.05,69.85 C627.08,62.68 634.12,55.58 641.15,50.70 C648.18,45.81 655.22,40.90 662.25,38.82 C669.28,36.75 676.32,35.47 683.35,34.61 C729.07,29.04 774.78,25.25 820.50,24.42 C904.90,22.90 989.30,22.80 1073.70,22.05 C1158.10,21.30 1242.50,20.74 1326.90,19.90 C1411.30,19.07 1495.70,17.80 1580.10,16.92 C1664.50,16.03 1748.90,15.31 1833.30,14.54 C1917.70,13.78 2002.10,12.67 2086.50,12.32 C2170.90,11.97 2255.30,11.86 2339.70,11.63" stroke="#FF0080" stroke-width="0.60" fill="none"/><circle cx="567.30" cy="158.70" r="1.30" fill="#fff" stroke="#000000" stroke-width="0.50"/><path d="M567.30,157.40 A1.30,1.30 0 0 1 567.30,160.00 Z" fill="#000000"/><circle cx="572.57" cy="147.21" r="1.30" fill="#fff" stroke="#000000" stroke-width="0.50"/><path d="M572.57,145.91 A1.30,1.30 0 0 1 572.57,148.51 Z" fill="#000000"/><circle cx="577.85" cy="124.23" r="1.30" fill="#fff" stroke="#000000" stroke-width="0.50"/><path d="M577.85,122.93 A1.30,1.30 0 0 1 577.85,125.53 Z" fill="#000000"/><circle cx="588.40" cy="103.55" r="1.30" fill="#fff" stroke="#000000" stroke-width="0.50"/><path d="M588.40,102.25 A1.30,1.30 0 0 1 588.40,104.85 Z" fill="#000000"/><circle cx="598.95" cy="72.91" r="1.30" fill="#fff" stroke="#000000" stroke-width="0.50"/><path d="M598.95,71.61 A1.30,1.30 0 0 1 598.95,74.21 Z" fill="#000000"/><circle cx="620.05" cy="53.76" r="1.30" fill="#fff" stroke="#000000" stroke-width="0.50"/><path d="M620.05,52.46 A1.30,1.30 0 0 1 620.05,55.06 Z" fill="#000000"/><circle cx="641.15" cy="21.59" r="1.30" fill="#fff" stroke="#000000" stroke-width="0.50"/><path d="M641.15,20.29 A1.30,1.30 0 0 1 641.15,22.89 Z" fill="#000000"/><circle cx="567.30" cy="157.17" r="1.30" fill="#fff" stroke="#808000" stroke-width="0.50"/><path d="M567.30,155.87 A1.30,1.30 0 0 1 567.30,158.47 Z" fill="#808000"/><circle cx="572.57" cy="153.34" r="1.30" fill="#fff" stroke="#808000" stroke-width="0.50"/><path d="M572.57,152.04 A1.30,1.30 0 0 1 572.57,154.64 Z" fill="#808000"/><circle cx="577.85" cy="131.89" r="1.30" fill="#fff" stroke="#808000" stroke-width="0.50"/><path d="M577.85,130.59 A1.30,1.30 0 0 1 577.85,133.19 Z" fill="#808000"/><circle cx="588.40" cy="119.64" r="1.30" fill="#fff" stroke="#808000" stroke-width="0.50"/><path d="M588.40,118.34 A1.30,1.30 0 0 1 588.40,120.94 Z" fill="#808000"/><circle cx="598.95" cy="103.55" r="1.30" fill="#fff" stroke="#808000" stroke-width="0.50"/><path d="M598.95,102.25 A1.30,1.30 0 0 1 598.95,104.85 Z" fill="#808000"/><circle cx="620.05" cy="87.46" r="1.30" fill="#fff" stroke="#808000" stroke-width="0.50"/><path d="M620.05,86.16 A1.30,1.30 0 0 1 620.05,88.76 Z" fill="#808000"/><circle cx="641.15" cy="66.02" r="1.30" fill="#fff" stroke="#808000" stroke-width="0.50"/><path d="M641.15,64.72 A1.30,1.30 0 0 1 641.15,67.32 Z" fill="#808000"/><circle cx="662.25" cy="52.69" r="1.30" fill="#fff" stroke="#808000" stroke-width="0.50"/><path d="M662.25,51.39 A1.30,1.30 0 0 1 662.25,53.99 Z" fill="#808000"/><circle cx="683.35" cy="50.70" r="1.30" fill="#fff" stroke="#808000" stroke-width="0.50"/><path d="M683.35,49.40 A1.30,1.30 0 0 1 683.35,52.00 Z" fill="#808000"/><circle cx="820.50" cy="49.93" r="1.30" fill="#fff" stroke="#808000" stroke-width="0.50"/><path d="M820.50,48.63 A1.30,1.30 0 0 1 820.50,51.23 Z" fill="#808000"/><circle cx="1073.70" cy="45.10" r="1.30" fill="#fff" stroke="#808000" stroke-width="0.50"/><path d="M1073.70,43.80 A1.30,1.30 0 0 1 1073.70,46.40 Z" fill="#808000"/><circle cx="1326.90" cy="39.82" r="1.30" fill="#fff" stroke="#808000" stroke-width="0.50"/><path d="M1326.90,38.52 A1.30,1.30 0 0 1 1326.90,41.12 Z" fill="#808000"/><circle cx="1580.10" cy="32.31" r="1.30" fill="#fff" stroke="#808000" stroke-width="0.50"/><path d="M1580.10,31.01 A1.30,1.30 0 0 1 1580.10,33.61 Z" fill="#808000"/><circle cx="1833.30" cy="28.48" r="1.30" fill="#fff" stroke="#808000" stroke-width="0.50"/><path d="M1833.30,27.18 A1.30,1.30 0 0 1 1833.30,29.78 Z" fill="#808000"/><circle cx="2086.50" cy="24.96" r="1.30" fill="#fff" stroke="#808000" stroke-width="0.50"/><path d="M2086.50,23.66 A1.30,1.30 0 0 1 2086.50,26.26 Z" fill="#808000"/><circle cx="2339.70" cy="22.20" r="1.30" fill="#fff" stroke="#808000" stroke-width="0.50"/><path d="M2339.70,20.90 A1.30,1.30 0 0 1 2339.70,23.50 Z" fill="#808000"/><circle cx="567.30" cy="158.70" r="1.30" fill="#fff" stroke="#000080" stroke-width="0.50"/><path d="M567.30,157.40 A1.30,1.30 0 0 1 567.30,160.00 Z" fill="#000080"/><circle cx="572.57" cy="144.15" r="1.30" fill="#fff" stroke="#000080" stroke-width="0.50"/><path d="M572.57,142.85 A1.30,1.30 0 0 1 572.57,145.45 Z" fill="#000080"/><circle cx="577.85" cy="128.83" r="1.30" fill="#fff" stroke="#000080" stroke-width="0.50"/><path d="M577.85,127.53 A1.30,1.30 0 0 1 577.85,130.13 Z" fill="#000080"/><circle cx="588.40" cy="118.10" r="1.30" fill="#fff" stroke="#000080" stroke-width="0.50"/><path d="M588.40,116.80 A1.30,1.30 0 0 1 588.40,119.40 Z" fill="#000080"/><circle cx="598.95" cy="102.02" r="1.30" fill="#fff" stroke="#000080" stroke-width="0.50"/><path d="M598.95,100.72 A1.30,1.30 0 0 1 598.95,103.32 Z" fill="#000080"/><circle cx="620.05" cy="82.87" r="1.30" fill="#fff" stroke="#000080" stroke-width="0.50"/><path d="M620.05,81.57 A1.30,1.30 0 0 1 620.05,84.17 Z" fill="#000080"/><circle cx="641.15" cy="63.72" r="1.30" fill="#fff" stroke="#000080" stroke-width="0.50"/><path d="M641.15,62.42 A1.30,1.30 0 0 1 641.15,65.02 Z" fill="#000080"/><circle cx="662.25" cy="50.47" r="1.30" fill="#fff" stroke="#000080" stroke-width="0.50"/><path d="M662.25,49.17 A1.30,1.30 0 0 1 662.25,51.77 Z" fill="#000080"/><circle cx="683.35" cy="48.40" r="1.30" fill="#fff" stroke="#000080" stroke-width="0.50"/><path d="M683.35,47.10 A1.30,1.30 0 0 1 683.35,49.70 Z" fill="#000080"/><circle cx="820.50" cy="42.27" r="1.30" fill="#fff" stroke="#000080" stroke-width="0.50"/><path d="M820.50,40.97 A1.30,1.30 0 0 1 820.50,43.57 Z" fill="#000080"/><circle cx="1073.70" cy="39.13" r="1.30" fill="#fff" stroke="#000080" stroke-width="0.50"/><path d="M1073.70,37.83 A1.30,1.30 0 0 1 1073.70,40.43 Z" fill="#000080"/><circle cx="1326.90" cy="35.07" r="1.30" fill="#fff" stroke="#000080" stroke-width="0.50"/><path d="M1326.90,33.77 A1.30,1.30 0 0 1 1326.90,36.37 Z" fill="#000080"/><circle cx="1580.10" cy="28.48" r="1.30" fill="#fff" stroke="#000080" stroke-width="0.50"/><path d="M1580.10,27.18 A1.30,1.30 0 0 1 1580.10,29.78 Z" fill="#000080"/><circle cx="1833.30" cy="24.96" r="1.30" fill="#fff" stroke="#000080" stroke-width="0.50"/><path d="M1833.30,23.66 A1.30,1.30 0 0 1 1833.30,26.26 Z" fill="#000080"/><circle cx="2086.50" cy="21.97" r="1.30" fill="#fff" stroke="#000080" stroke-width="0.50"/><path d="M2086.50,20.67 A1.30,1.30 0 0 1 2086.50,23.27 Z" fill="#000080"/><circle cx="2339.70" cy="20.90" r="1.30" fill="#fff" stroke="#000080" stroke-width="0.50"/><path d="M2339.70,19.60 A1.30,1.30 0 0 1 2339.70,22.20 Z" fill="#000080"/><circle cx="567.30" cy="158.70" r="1.30" fill="#fff" stroke="#008000" stroke-width="0.50"/><path d="M567.30,157.40 A1.30,1.30 0 0 1 567.30,160.00 Z" fill="#008000"/><circle cx="572.57" cy="142.62" r="1.30" fill="#fff" stroke="#008000" stroke-width="0.50"/><path d="M572.57,141.32 A1.30,1.30 0 0 1 572.57,143.92 Z" fill="#008000"/><circle cx="577.85" cy="127.30" r="1.30" fill="#fff" stroke="#008000" stroke-width="0.50"/><path d="M577.85,126.00 A1.30,1.30 0 0 1 577.85,128.60 Z" fill="#008000"/><circle cx="588.40" cy="116.57" r="1.30" fill="#fff" stroke="#008000" stroke-width="0.50"/><path d="M588.40,115.27 A1.30,1.30 0 0 1 588.40,117.87 Z" fill="#008000"/><circle cx="598.95" cy="100.49" r="1.30" fill="#fff" stroke="#008000" stroke-width="0.50"/><path d="M598.95,99.19 A1.30,1.30 0 0 1 598.95,101.79 Z" fill="#008000"/><circle cx="620.05" cy="79.04" r="1.30" fill="#fff" stroke="#008000" stroke-width="0.50"/><path d="M620.05,77.74 A1.30,1.30 0 0 1 620.05,80.34 Z" fill="#008000"/><circle cx="641.15" cy="59.12" r="1.30" fill="#fff" stroke="#008000" stroke-width="0.50"/><path d="M641.15,57.82 A1.30,1.30 0 0 1 641.15,60.42 Z" fill="#008000"/><circle cx="662.25" cy="46.18" r="1.30" fill="#fff" stroke="#008000" stroke-width="0.50"/><path d="M662.25,44.88 A1.30,1.30 0 0 1 662.25,47.48 Z" fill="#008000"/><circle cx="683.35" cy="41.81" r="1.30" fill="#fff" stroke="#008000" stroke-width="0.50"/><path d="M683.35,40.51 A1.30,1.30 0 0 1 683.35,43.11 Z" fill="#008000"/><circle cx="820.50" cy="39.13" r="1.30" fill="#fff" stroke="#008000" stroke-width="0.50"/><path d="M820.50,37.83 A1.30,1.30 0 0 1 820.50,40.43 Z" fill="#008000"/><circle cx="1073.70" cy="34.61" r="1.30" fill="#fff" stroke="#008000" stroke-width="0.50"/><path d="M1073.70,33.31 A1.30,1.30 0 0 1 1073.70,35.91 Z" fill="#008000"/><circle cx="1326.90" cy="33.15" r="1.30" fill="#fff" stroke="#008000" stroke-width="0.50"/><path d="M1326.90,31.85 A1.30,1.30 0 0 1 1326.90,34.45 Z" fill="#008000"/><circle cx="1580.10" cy="27.10" r="1.30" fill="#fff" stroke="#008000" stroke-width="0.50"/><path d="M1580.10,25.80 A1.30,1.30 0 0 1 1580.10,28.40 Z" fill="#008000"/><circle cx="1833.30" cy="22.89" r="1.30" fill="#fff" stroke="#008000" stroke-width="0.50"/><path d="M1833.30,21.59 A1.30,1.30 0 0 1 1833.30,24.19 Z" fill="#008000"/><circle cx="2086.50" cy="20.44" r="1.30" fill="#fff" stroke="#008000" stroke-width="0.50"/><path d="M2086.50,19.14 A1.30,1.30 0 0 1 2086.50,21.74 Z" fill="#008000"/><circle cx="2339.70" cy="19.06" r="1.30" fill="#fff" stroke="#008000" stroke-width="0.50"/><path d="M2339.70,17.76 A1.30,1.30 0 0 1 2339.70,20.36 Z" fill="#008000"/><circle cx="567.30" cy="157.94" r="1.30" fill="#fff" stroke="#8000FF" stroke-width="0.50"/><path d="M567.30,156.64 A1.30,1.30 0 0 1 567.30,159.24 Z" fill="#8000FF"/><circle cx="572.57" cy="140.32" r="1.30" fill="#fff" stroke="#8000FF" stroke-width="0.50"/><path d="M572.57,139.02 A1.30,1.30 0 0 1 572.57,141.62 Z" fill="#8000FF"/><circle cx="577.85" cy="125.76" r="1.30" fill="#fff" stroke="#8000FF" stroke-width="0.50"/><path d="M577.85,124.46 A1.30,1.30 0 0 1 577.85,127.06 Z" fill="#8000FF"/><circle cx="588.40" cy="114.27" r="1.30" fill="#fff" stroke="#8000FF" stroke-width="0.50"/><path d="M588.40,112.97 A1.30,1.30 0 0 1 588.40,115.57 Z" fill="#8000FF"/><circle cx="598.95" cy="97.42" r="1.30" fill="#fff" stroke="#8000FF" stroke-width="0.50"/><path d="M598.95,96.12 A1.30,1.30 0 0 1 598.95,98.72 Z" fill="#8000FF"/><circle cx="620.05" cy="74.44" r="1.30" fill="#fff" stroke="#8000FF" stroke-width="0.50"/><path d="M620.05,73.14 A1.30,1.30 0 0 1 620.05,75.74 Z" fill="#8000FF"/><circle cx="641.15" cy="54.83" r="1.30" fill="#fff" stroke="#8000FF" stroke-width="0.50"/><path d="M641.15,53.53 A1.30,1.30 0 0 1 641.15,56.13 Z" fill="#8000FF"/><circle cx="662.25" cy="43.11" r="1.30" fill="#fff" stroke="#8000FF" stroke-width="0.50"/><path d="M662.25,41.81 A1.30,1.30 0 0 1 662.25,44.41 Z" fill="#8000FF"/><circle cx="683.35" cy="37.67" r="1.30" fill="#fff" stroke="#8000FF" stroke-width="0.50"/><path d="M683.35,36.37 A1.30,1.30 0 0 1 683.35,38.97 Z" fill="#8000FF"/><circle cx="820.50" cy="35.99" r="1.30" fill="#fff" stroke="#8000FF" stroke-width="0.50"/><path d="M820.50,34.69 A1.30,1.30 0 0 1 820.50,37.29 Z" fill="#8000FF"/><circle cx="1073.70" cy="30.70" r="1.30" fill="#fff" stroke="#8000FF" stroke-width="0.50"/><path d="M1073.70,29.40 A1.30,1.30 0 0 1 1073.70,32.00 Z" fill="#8000FF"/><circle cx="1326.90" cy="27.64" r="1.30" fill="#fff" stroke="#8000FF" stroke-width="0.50"/><path d="M1326.90,26.34 A1.30,1.30 0 0 1 1326.90,28.94 Z" fill="#8000FF"/><circle cx="1580.10" cy="25.42" r="1.30" fill="#fff" stroke="#8000FF" stroke-width="0.50"/><path d="M1580.10,24.12 A1.30,1.30 0 0 1 1580.10,26.72 Z" fill="#8000FF"/><circle cx="1833.30" cy="21.51" r="1.30" fill="#fff" stroke="#8000FF" stroke-width="0.50"/><path d="M1833.30,20.21 A1.30,1.30 0 0 1 1833.30,22.81 Z" fill="#8000FF"/><circle cx="2086.50" cy="16.84" r="1.30" fill="#fff" stroke="#8000FF" stroke-width="0.50"/><path d="M2086.50,15.54 A1.30,1.30 0 0 1 2086.50,18.14 Z" fill="#8000FF"/><circle cx="2339.70" cy="13.77" r="1.30" fill="#fff" stroke="#8000FF" stroke-width="0.50"/><path d="M2339.70,12.47 A1.30,1.30 0 0 1 2339.70,15.07 Z" fill="#8000FF"/><circle cx="567.30" cy="157.94" r="1.30" fill="#fff" stroke="#FF0080" stroke-width="0.50"/><path d="M567.30,156.64 A1.30,1.30 0 0 1 567.30,159.24 Z" fill="#FF0080"/><circle cx="572.57" cy="138.79" r="1.30" fill="#fff" stroke="#FF0080" stroke-width="0.50"/><path d="M572.57,137.49 A1.30,1.30 0 0 1 572.57,140.09 Z" fill="#FF0080"/><circle cx="577.85" cy="125.76" r="1.30" fill="#fff" stroke="#FF0080" stroke-width="0.50"/><path d="M577.85,124.46 A1.30,1.30 0 0 1 577.85,127.06 Z" fill="#FF0080"/><circle cx="588.40" cy="111.21" r="1.30" fill="#fff" stroke="#FF0080" stroke-width="0.50"/><path d="M588.40,109.91 A1.30,1.30 0 0 1 588.40,112.51 Z" fill="#FF0080"/><circle cx="598.95" cy="94.36" r="1.30" fill="#fff" stroke="#FF0080" stroke-width="0.50"/><path d="M598.95,93.06 A1.30,1.30 0 0 1 598.95,95.66 Z" fill="#FF0080"/><circle cx="620.05" cy="69.85" r="1.30" fill="#fff" stroke="#FF0080" stroke-width="0.50"/><path d="M620.05,68.55 A1.30,1.30 0 0 1 620.05,71.15 Z" fill="#FF0080"/><circle cx="641.15" cy="50.70" r="1.30" fill="#fff" stroke="#FF0080" stroke-width="0.50"/><path d="M641.15,49.40 A1.30,1.30 0 0 1 641.15,52.00 Z" fill="#FF0080"/><circle cx="662.25" cy="38.82" r="1.30" fill="#fff" stroke="#FF0080" stroke-width="0.50"/><path d="M662.25,37.52 A1.30,1.30 0 0 1 662.25,40.12 Z" fill="#FF0080"/><circle cx="683.35" cy="34.61" r="1.30" fill="#fff" stroke="#FF0080" stroke-width="0.50"/><path d="M683.35,33.31 A1.30,1.30 0 0 1 683.35,35.91 Z" fill="#FF0080"/><circle cx="820.50" cy="24.42" r="1.30" fill="#fff" stroke="#FF0080" stroke-width="0.50"/><path d="M820.50,23.12 A1.30,1.30 0 0 1 820.50,25.72 Z" fill="#FF0080"/><circle cx="1073.70" cy="22.05" r="1.30" fill="#fff" stroke="#FF0080" stroke-width="0.50"/><path d="M1073.70,20.75 A1.30,1.30 0 0 1 1073.70,23.35 Z" fill="#FF0080"/><circle cx="1326.90" cy="19.90" r="1.30" fill="#fff" stroke="#FF0080" stroke-width="0.50"/><path d="M1326.90,18.60 A1.30,1.30 0 0 1 1326.90,21.20 Z" fill="#FF0080"/><circle cx="1580.10" cy="16.92" r="1.30" fill="#fff" stroke="#FF0080" stroke-width="0.50"/><path d="M1580.10,15.62 A1.30,1.30 0 0 1 1580.10,18.22 Z" fill="#FF0080"/><circle cx="1833.30" cy="14.54" r="1.30" fill="#fff" stroke="#FF0080" stroke-width="0.50"/><path d="M1833.30,13.24 A1.30,1.30 0 0 1 1833.30,15.84 Z" fill="#FF0080"/><circle cx="2086.50" cy="12.32" r="1.30" fill="#fff" stroke="#FF0080" stroke-width="0.50"/><path d="M2086.50,11.02 A1.30,1.30 0 0 1 2086.50,13.62 Z" fill="#FF0080"/><circle cx="2339.70" cy="11.63" r="1.30" fill="#fff" stroke="#FF0080" stroke-width="0.50"/><path d="M2339.70,10.33 A1.30,1.30 0 0 1 2339.70,12.93 Z" fill="#FF0080"/><path d="M572.57,144.15 V150.28 M570.97,144.15 H574.17 M570.97,150.28 H574.17" stroke="#000000" stroke-width="0.55" fill="none"/><path d="M577.85,118.87 V129.59 M576.25,118.87 H579.45 M576.25,129.59 H579.45" stroke="#000000" stroke-width="0.55" fill="none"/><path d="M588.40,96.66 V110.44 M586.80,96.66 H590.00 M586.80,110.44 H590.00" stroke="#000000" stroke-width="0.55" fill="none"/><path d="M598.95,62.95 V82.87 M597.35,62.95 H600.55 M597.35,82.87 H600.55" stroke="#000000" stroke-width="0.55" fill="none"/><path d="M620.05,44.57 V62.95 M618.45,44.57 H621.65 M618.45,62.95 H621.65" stroke="#000000" stroke-width="0.55" fill="none"/><path d="M641.15,15.46 V27.72 M639.55,15.46 H642.75 M639.55,27.72 H642.75" stroke="#000000" stroke-width="0.55" fill="none"/><path d="M567.30,154.95 V159.39 M565.70,154.95 H568.90 M565.70,159.39 H568.90" stroke="#808000" stroke-width="0.55" fill="none"/><path d="M572.57,150.28 V156.40 M570.97,150.28 H574.17 M570.97,156.40 H574.17" stroke="#808000" stroke-width="0.55" fill="none"/><path d="M577.85,128.06 V135.72 M576.25,128.06 H579.45 M576.25,135.72 H579.45" stroke="#808000" stroke-width="0.55" fill="none"/><path d="M588.40,115.04 V124.23 M586.80,115.04 H590.00 M586.80,124.23 H590.00" stroke="#808000" stroke-width="0.55" fill="none"/><path d="M598.95,98.19 V108.91 M597.35,98.19 H600.55 M597.35,108.91 H600.55" stroke="#808000" stroke-width="0.55" fill="none"/><path d="M620.05,81.34 V93.59 M618.45,81.34 H621.65 M618.45,93.59 H621.65" stroke="#808000" stroke-width="0.55" fill="none"/><path d="M641.15,59.12 V72.91 M639.55,59.12 H642.75 M639.55,72.91 H642.75" stroke="#808000" stroke-width="0.55" fill="none"/><path d="M662.25,45.03 V60.35 M660.65,45.03 H663.85 M660.65,60.35 H663.85" stroke="#808000" stroke-width="0.55" fill="none"/><path d="M683.35,43.04 V58.36 M681.75,43.04 H684.95 M681.75,58.36 H684.95" stroke="#808000" stroke-width="0.55" fill="none"/><path d="M820.50,40.13 V59.73 M818.90,40.13 H822.10 M818.90,59.73 H822.10" stroke="#808000" stroke-width="0.55" fill="none"/><path d="M1073.70,36.30 V53.91 M1072.10,36.30 H1075.30 M1072.10,53.91 H1075.30" stroke="#808000" stroke-width="0.55" fill="none"/><path d="M1326.90,32.16 V47.48 M1325.30,32.16 H1328.50 M1325.30,47.48 H1328.50" stroke="#808000" stroke-width="0.55" fill="none"/><path d="M1580.10,24.65 V39.97 M1578.50,24.65 H1581.70 M1578.50,39.97 H1581.70" stroke="#808000" stroke-width="0.55" fill="none"/><path d="M1833.30,20.06 V36.91 M1831.70,20.06 H1834.90 M1831.70,36.91 H1834.90" stroke="#808000" stroke-width="0.55" fill="none"/><path d="M2086.50,16.84 V33.08 M2084.90,16.84 H2088.10 M2084.90,33.08 H2088.10" stroke="#808000" stroke-width="0.55" fill="none"/><path d="M2339.70,18.37 V26.03 M2338.10,18.37 H2341.30 M2338.10,26.03 H2341.30" stroke="#808000" stroke-width="0.55" fill="none"/><path d="M567.30,157.17 V160.23 M565.70,157.17 H568.90 M565.70,160.23 H568.90" stroke="#000080" stroke-width="0.55" fill="none"/><path d="M572.57,141.08 V147.21 M570.97,141.08 H574.17 M570.97,147.21 H574.17" stroke="#000080" stroke-width="0.55" fill="none"/><path d="M577.85,125.00 V132.66 M576.25,125.00 H579.45 M576.25,132.66 H579.45" stroke="#000080" stroke-width="0.55" fill="none"/><path d="M588.40,113.51 V122.70 M586.80,113.51 H590.00 M586.80,122.70 H590.00" stroke="#000080" stroke-width="0.55" fill="none"/><path d="M598.95,96.66 V107.38 M597.35,96.66 H600.55 M597.35,107.38 H600.55" stroke="#000080" stroke-width="0.55" fill="none"/><path d="M620.05,76.74 V89.00 M618.45,76.74 H621.65 M618.45,89.00 H621.65" stroke="#000080" stroke-width="0.55" fill="none"/><path d="M641.15,56.82 V70.61 M639.55,56.82 H642.75 M639.55,70.61 H642.75" stroke="#000080" stroke-width="0.55" fill="none"/><path d="M662.25,43.57 V57.36 M660.65,43.57 H663.85 M660.65,57.36 H663.85" stroke="#000080" stroke-width="0.55" fill="none"/><path d="M683.35,40.74 V56.06 M681.75,40.74 H684.95 M681.75,56.06 H684.95" stroke="#000080" stroke-width="0.55" fill="none"/><path d="M820.50,33.84 V50.70 M818.90,33.84 H822.10 M818.90,50.70 H822.10" stroke="#000080" stroke-width="0.55" fill="none"/><path d="M1073.70,30.70 V47.56 M1072.10,30.70 H1075.30 M1072.10,47.56 H1075.30" stroke="#000080" stroke-width="0.55" fill="none"/><path d="M1326.90,23.20 V46.94 M1325.30,23.20 H1328.50 M1325.30,46.94 H1328.50" stroke="#000080" stroke-width="0.55" fill="none"/><path d="M1580.10,19.29 V37.67 M1578.50,19.29 H1581.70 M1578.50,37.67 H1581.70" stroke="#000080" stroke-width="0.55" fill="none"/><path d="M1833.30,16.53 V33.38 M1831.70,16.53 H1834.90 M1831.70,33.38 H1834.90" stroke="#000080" stroke-width="0.55" fill="none"/><path d="M2086.50,13.16 V30.78 M2084.90,13.16 H2088.10 M2084.90,30.78 H2088.10" stroke="#000080" stroke-width="0.55" fill="none"/><path d="M2339.70,12.47 V29.32 M2338.10,12.47 H2341.30 M2338.10,29.32 H2341.30" stroke="#000080" stroke-width="0.55" fill="none"/><path d="M567.30,157.17 V160.23 M565.70,157.17 H568.90 M565.70,160.23 H568.90" stroke="#008000" stroke-width="0.55" fill="none"/><path d="M572.57,139.55 V145.68 M570.97,139.55 H574.17 M570.97,145.68 H574.17" stroke="#008000" stroke-width="0.55" fill="none"/><path d="M577.85,123.47 V131.13 M576.25,123.47 H579.45 M576.25,131.13 H579.45" stroke="#008000" stroke-width="0.55" fill="none"/><path d="M588.40,111.98 V121.17 M586.80,111.98 H590.00 M586.80,121.17 H590.00" stroke="#008000" stroke-width="0.55" fill="none"/><path d="M598.95,95.12 V105.85 M597.35,95.12 H600.55 M597.35,105.85 H600.55" stroke="#008000" stroke-width="0.55" fill="none"/><path d="M620.05,72.91 V85.17 M618.45,72.91 H621.65 M618.45,85.17 H621.65" stroke="#008000" stroke-width="0.55" fill="none"/><path d="M641.15,52.23 V66.02 M639.55,52.23 H642.75 M639.55,66.02 H642.75" stroke="#008000" stroke-width="0.55" fill="none"/><path d="M662.25,39.28 V53.07 M660.65,39.28 H663.85 M660.65,53.07 H663.85" stroke="#008000" stroke-width="0.55" fill="none"/><path d="M683.35,34.15 V49.47 M681.75,34.15 H684.95 M681.75,49.47 H684.95" stroke="#008000" stroke-width="0.55" fill="none"/><path d="M820.50,31.47 V46.79 M818.90,31.47 H822.10 M818.90,46.79 H822.10" stroke="#008000" stroke-width="0.55" fill="none"/><path d="M1073.70,26.18 V43.04 M1072.10,26.18 H1075.30 M1072.10,43.04 H1075.30" stroke="#008000" stroke-width="0.55" fill="none"/><path d="M1326.90,23.96 V42.35 M1325.30,23.96 H1328.50 M1325.30,42.35 H1328.50" stroke="#008000" stroke-width="0.55" fill="none"/><path d="M1580.10,17.91 V36.30 M1578.50,17.91 H1581.70 M1578.50,36.30 H1581.70" stroke="#008000" stroke-width="0.55" fill="none"/><path d="M1833.30,14.46 V31.32 M1831.70,14.46 H1834.90 M1831.70,31.32 H1834.90" stroke="#008000" stroke-width="0.55" fill="none"/><path d="M2086.50,11.25 V29.63 M2084.90,11.25 H2088.10 M2084.90,29.63 H2088.10" stroke="#008000" stroke-width="0.55" fill="none"/><path d="M2339.70,9.26 V28.86 M2338.10,9.26 H2341.30 M2338.10,28.86 H2341.30" stroke="#008000" stroke-width="0.55" fill="none"/><path d="M567.30,156.40 V159.47 M565.70,156.40 H568.90 M565.70,159.47 H568.90" stroke="#8000FF" stroke-width="0.55" fill="none"/><path d="M572.57,137.25 V143.38 M570.97,137.25 H574.17 M570.97,143.38 H574.17" stroke="#8000FF" stroke-width="0.55" fill="none"/><path d="M577.85,121.93 V129.59 M576.25,121.93 H579.45 M576.25,129.59 H579.45" stroke="#8000FF" stroke-width="0.55" fill="none"/><path d="M588.40,109.68 V118.87 M586.80,109.68 H590.00 M586.80,118.87 H590.00" stroke="#8000FF" stroke-width="0.55" fill="none"/><path d="M598.95,92.06 V102.78 M597.35,92.06 H600.55 M597.35,102.78 H600.55" stroke="#8000FF" stroke-width="0.55" fill="none"/><path d="M620.05,68.31 V80.57 M618.45,68.31 H621.65 M618.45,80.57 H621.65" stroke="#8000FF" stroke-width="0.55" fill="none"/><path d="M641.15,47.94 V61.73 M639.55,47.94 H642.75 M639.55,61.73 H642.75" stroke="#8000FF" stroke-width="0.55" fill="none"/><path d="M662.25,36.22 V50.01 M660.65,36.22 H663.85 M660.65,50.01 H663.85" stroke="#8000FF" stroke-width="0.55" fill="none"/><path d="M683.35,30.78 V44.57 M681.75,30.78 H684.95 M681.75,44.57 H684.95" stroke="#8000FF" stroke-width="0.55" fill="none"/><path d="M820.50,28.33 V43.65 M818.90,28.33 H822.10 M818.90,43.65 H822.10" stroke="#8000FF" stroke-width="0.55" fill="none"/><path d="M1073.70,23.81 V37.60 M1072.10,23.81 H1075.30 M1072.10,37.60 H1075.30" stroke="#8000FF" stroke-width="0.55" fill="none"/><path d="M1326.90,19.98 V35.30 M1325.30,19.98 H1328.50 M1325.30,35.30 H1328.50" stroke="#8000FF" stroke-width="0.55" fill="none"/><path d="M1580.10,16.99 V33.84 M1578.50,16.99 H1581.70 M1578.50,33.84 H1581.70" stroke="#8000FF" stroke-width="0.55" fill="none"/><path d="M1833.30,13.85 V29.17 M1831.70,13.85 H1834.90 M1831.70,29.17 H1834.90" stroke="#8000FF" stroke-width="0.55" fill="none"/><path d="M2086.50,8.87 V24.81 M2084.90,8.87 H2088.10 M2084.90,24.81 H2088.10" stroke="#8000FF" stroke-width="0.55" fill="none"/><path d="M2339.70,0.98 V26.57 M2338.10,0.98 H2341.30 M2338.10,26.57 H2341.30" stroke="#8000FF" stroke-width="0.55" fill="none"/><path d="M567.30,157.17 V158.70 M565.70,157.17 H568.90 M565.70,158.70 H568.90" stroke="#FF0080" stroke-width="0.55" fill="none"/><path d="M572.57,135.72 V141.85 M570.97,135.72 H574.17 M570.97,141.85 H574.17" stroke="#FF0080" stroke-width="0.55" fill="none"/><path d="M577.85,121.93 V129.59 M576.25,121.93 H579.45 M576.25,129.59 H579.45" stroke="#FF0080" stroke-width="0.55" fill="none"/><path d="M588.40,106.61 V115.81 M586.80,106.61 H590.00 M586.80,115.81 H590.00" stroke="#FF0080" stroke-width="0.55" fill="none"/><path d="M598.95,89.00 V99.72 M597.35,89.00 H600.55 M597.35,99.72 H600.55" stroke="#FF0080" stroke-width="0.55" fill="none"/><path d="M620.05,63.72 V75.97 M618.45,63.72 H621.65 M618.45,75.97 H621.65" stroke="#FF0080" stroke-width="0.55" fill="none"/><path d="M641.15,43.80 V57.59 M639.55,43.80 H642.75 M639.55,57.59 H642.75" stroke="#FF0080" stroke-width="0.55" fill="none"/><path d="M662.25,31.16 V46.48 M660.65,31.16 H663.85 M660.65,46.48 H663.85" stroke="#FF0080" stroke-width="0.55" fill="none"/><path d="M683.35,26.95 V42.27 M681.75,26.95 H684.95 M681.75,42.27 H684.95" stroke="#FF0080" stroke-width="0.55" fill="none"/><path d="M820.50,16.00 V32.85 M818.90,16.00 H822.10 M818.90,32.85 H822.10" stroke="#FF0080" stroke-width="0.55" fill="none"/><path d="M1073.70,17.83 V26.26 M1072.10,17.83 H1075.30 M1072.10,26.26 H1075.30" stroke="#FF0080" stroke-width="0.55" fill="none"/><path d="M1326.90,11.78 V28.02 M1325.30,11.78 H1328.50 M1325.30,28.02 H1328.50" stroke="#FF0080" stroke-width="0.55" fill="none"/><path d="M1580.10,8.49 V25.34 M1578.50,8.49 H1581.70 M1578.50,25.34 H1581.70" stroke="#FF0080" stroke-width="0.55" fill="none"/><path d="M1833.30,5.50 V23.58 M1831.70,5.50 H1834.90 M1831.70,23.58 H1834.90" stroke="#FF0080" stroke-width="0.55" fill="none"/><path d="M2086.50,5.50 V19.14 M2084.90,5.50 H2088.10 M2084.90,19.14 H2088.10" stroke="#FF0080" stroke-width="0.55" fill="none"/><path d="M2339.70,-0.24 V23.50 M2338.10,-0.24 H2341.30 M2338.10,23.50 H2341.30" stroke="#FF0080" stroke-width="0.55" fill="none"/>
</g>
<text x="681.3" y="157.6" text-anchor="end" style="font-family:'Liberation Sans', sans-serif;font-size:10.3px;font-weight:bold;fill:#111;stroke:#111;stroke-width:0.2px">Sub-Figure 1(A)</text>
<path d="M568,166.6H683.4" stroke="#aaa" stroke-width="1" fill="none"/>
<path d="M568,166.6V320.1H683.4V166.6" stroke="#8a8a8a" stroke-width="1" fill="none"/>
<path d="M567.70,320.1V322.8 M588.90,320.1V322.8 M610.10,320.1V322.8 M631.30,320.1V322.8 M652.50,320.1V322.8 M673.70,320.1V322.8 " stroke="#8a8a8a" stroke-width="0.8" fill="none"/>
<text x="567.70" y="330.2" text-anchor="middle" style="font-family:'Liberation Sans', sans-serif;font-size:6px;fill:#555">0</text>
<text x="588.90" y="330.2" text-anchor="middle" style="font-family:'Liberation Sans', sans-serif;font-size:6px;fill:#555">2</text>
<text x="610.10" y="330.2" text-anchor="middle" style="font-family:'Liberation Sans', sans-serif;font-size:6px;fill:#555">4</text>
<text x="631.30" y="330.2" text-anchor="middle" style="font-family:'Liberation Sans', sans-serif;font-size:6px;fill:#555">6</text>
<text x="652.50" y="330.2" text-anchor="middle" style="font-family:'Liberation Sans', sans-serif;font-size:6px;fill:#555">8</text>
<text x="673.70" y="330.2" text-anchor="middle" style="font-family:'Liberation Sans', sans-serif;font-size:6px;fill:#555">10</text>
<text x="569.3" y="174.4" style="font-family:'Liberation Sans', sans-serif;font-size:6.2px;font-weight:bold;fill:#444">(B)</text>
<clipPath id="csb"><rect x="568.5" y="167" width="114.5" height="152.5"/></clipPath>
<g clip-path="url(#csb)">
<path d="M567.70,319.07 C569.47,312.99 571.23,307.02 573.00,300.82 C574.77,294.62 576.53,285.89 578.30,281.84 C581.83,273.73 585.37,272.22 588.90,265.05 C592.43,257.88 595.97,240.08 599.50,235.12 C606.57,225.21 613.63,224.46 620.70,216.87 C627.77,209.28 634.83,196.67 641.90,186.58" stroke="#888" stroke-width="0.60" fill="none"/><path d="M567.70,317.61 C569.47,311.04 571.23,305.10 573.00,297.90 C574.77,290.70 576.53,278.76 578.30,274.03 C581.83,264.57 585.37,262.97 588.90,255.19 C592.43,247.42 595.97,230.14 599.50,224.61 C606.57,213.55 613.63,210.52 620.70,203.51 C627.77,196.50 634.83,189.54 641.90,182.56" stroke="#FF0000" stroke-width="0.60" fill="none"/><path d="M567.70,311.04 C569.47,307.88 571.23,305.14 573.00,301.55 C574.77,297.96 576.53,291.90 578.30,289.14 C581.83,283.62 585.37,282.48 588.90,277.46 C592.43,272.44 595.97,260.94 599.50,256.29 C606.57,246.99 613.63,241.54 620.70,236.73 C627.77,231.91 634.83,229.40 641.90,225.27 C648.97,221.13 656.03,214.48 663.10,211.76 C670.17,209.04 677.23,206.50 684.30,205.92 C730.23,202.14 776.17,201.72 822.10,200.66 C906.90,198.71 991.70,197.38 1076.50,196.72 C1161.30,196.07 1246.10,195.94 1330.90,195.41 C1415.70,194.87 1500.50,193.90 1585.30,193.36 C1670.10,192.83 1754.90,192.65 1839.70,192.05 C1924.50,191.45 2009.30,189.52 2094.10,189.13 C2178.90,188.74 2263.70,188.64 2348.50,188.40" stroke="#00FF00" stroke-width="0.60" fill="none"/><path d="M567.70,312.50 C569.47,308.12 571.23,303.61 573.00,299.36 C574.77,295.11 576.53,289.81 578.30,286.95 C581.83,281.22 585.37,279.93 588.90,274.54 C592.43,269.15 595.97,256.28 599.50,251.33 C606.57,241.41 613.63,235.87 620.70,230.81 C627.77,225.75 634.83,223.29 641.90,218.77 C648.97,214.24 656.03,205.59 663.10,203.22 C670.17,200.85 677.23,199.44 684.30,198.62 C730.23,193.32 776.17,190.22 822.10,189.64 C906.90,188.58 991.70,188.47 1076.50,188.04 C1161.30,187.60 1246.10,187.37 1330.90,186.94 C1415.70,186.51 1500.50,185.93 1585.30,185.41 C1670.10,184.88 1754.90,184.28 1839.70,183.80 C1924.50,183.32 2009.30,182.98 2094.10,182.49 C2178.90,182.00 2263.70,181.37 2348.50,180.81" stroke="#0000FF" stroke-width="0.60" fill="none"/><path d="M567.70,313.96 C569.47,310.55 571.23,307.37 573.00,303.74 C574.77,300.11 576.53,294.86 578.30,292.06 C581.83,286.47 585.37,284.78 588.90,279.65 C592.43,274.52 595.97,264.13 599.50,259.43 C606.57,250.03 613.63,243.60 620.70,238.99 C627.77,234.38 634.83,231.92 641.90,228.55 C648.97,225.18 656.03,221.72 663.10,218.77 C670.17,215.81 677.23,211.65 684.30,210.67 C730.23,204.28 776.17,202.01 822.10,201.32 C906.90,200.04 991.70,200.18 1076.50,199.35 C1161.30,198.52 1246.10,197.09 1330.90,195.99 C1415.70,194.90 1500.50,193.61 1585.30,192.78 C1670.10,191.95 1754.90,191.49 1839.70,190.74 C1924.50,189.98 2009.30,188.74 2094.10,188.18 C2178.90,187.62 2263.70,187.35 2348.50,186.94" stroke="#FF00FF" stroke-width="0.60" fill="none"/><path d="M567.70,316.15 C569.47,315.20 571.23,314.45 573.00,313.30 C574.77,312.16 576.53,309.45 578.30,309.00 C581.83,308.09 585.37,308.26 588.90,307.54 C592.43,306.81 595.97,304.18 599.50,303.30 C606.57,301.55 613.63,301.08 620.70,299.73 C627.77,298.37 634.83,296.95 641.90,295.05 C648.97,293.15 656.03,289.17 663.10,287.75 C670.17,286.34 677.23,285.08 684.30,284.76 C730.23,282.69 776.17,282.45 822.10,281.84 C906.90,280.71 991.70,279.87 1076.50,279.50 C1161.30,279.13 1246.10,279.13 1330.90,278.77 C1415.70,278.42 1500.50,277.26 1585.30,276.73 C1670.10,276.20 1754.90,275.90 1839.70,275.42 C1924.50,274.93 2009.30,274.17 2094.10,273.81 C2178.90,273.45 2263.70,273.27 2348.50,273.01" stroke="#800000" stroke-width="0.60" fill="none"/><path d="M567.70,319.80 C569.47,315.91 571.23,310.19 573.00,308.12 C574.77,306.05 576.53,304.35 578.30,303.89 C581.83,302.95 585.37,303.07 588.90,302.35 C592.43,301.63 595.97,298.99 599.50,298.70 C606.57,298.13 613.63,298.32 620.70,297.83 C627.77,297.34 634.83,295.19 641.90,293.16 C648.97,291.12 656.03,286.46 663.10,284.32 C670.17,282.18 677.23,279.60 684.30,279.29 C730.23,277.24 776.17,277.61 822.10,276.66 C906.90,274.90 991.70,272.69 1076.50,270.74 C1161.30,268.80 1246.10,267.12 1330.90,264.98 C1415.70,262.84 1500.50,259.19 1585.30,257.75 C1670.10,256.31 1754.90,256.12 1839.70,254.68 C1924.50,253.24 2009.30,250.02 2094.10,247.38 C2178.90,244.75 2263.70,241.64 2348.50,238.77" stroke="#800080" stroke-width="0.60" fill="none"/><circle cx="567.70" cy="319.07" r="1.30" fill="#fff" stroke="#000000" stroke-width="0.50"/><path d="M567.70,317.77 A1.30,1.30 0 0 1 567.70,320.37 Z" fill="#000000"/><circle cx="573.00" cy="300.82" r="1.30" fill="#fff" stroke="#000000" stroke-width="0.50"/><path d="M573.00,299.52 A1.30,1.30 0 0 1 573.00,302.12 Z" fill="#000000"/><circle cx="578.30" cy="281.84" r="1.30" fill="#fff" stroke="#000000" stroke-width="0.50"/><path d="M578.30,280.54 A1.30,1.30 0 0 1 578.30,283.14 Z" fill="#000000"/><circle cx="588.90" cy="265.05" r="1.30" fill="#fff" stroke="#000000" stroke-width="0.50"/><path d="M588.90,263.75 A1.30,1.30 0 0 1 588.90,266.35 Z" fill="#000000"/><circle cx="599.50" cy="235.12" r="1.30" fill="#fff" stroke="#000000" stroke-width="0.50"/><path d="M599.50,233.82 A1.30,1.30 0 0 1 599.50,236.42 Z" fill="#000000"/><circle cx="620.70" cy="216.87" r="1.30" fill="#fff" stroke="#000000" stroke-width="0.50"/><path d="M620.70,215.57 A1.30,1.30 0 0 1 620.70,218.17 Z" fill="#000000"/><circle cx="641.90" cy="186.58" r="1.30" fill="#fff" stroke="#000000" stroke-width="0.50"/><path d="M641.90,185.28 A1.30,1.30 0 0 1 641.90,187.88 Z" fill="#000000"/><circle cx="567.70" cy="317.61" r="1.30" fill="#fff" stroke="#FF0000" stroke-width="0.50"/><path d="M567.70,316.31 A1.30,1.30 0 0 1 567.70,318.91 Z" fill="#FF0000"/><circle cx="573.00" cy="297.90" r="1.30" fill="#fff" stroke="#FF0000" stroke-width="0.50"/><path d="M573.00,296.60 A1.30,1.30 0 0 1 573.00,299.20 Z" fill="#FF0000"/><circle cx="578.30" cy="274.03" r="1.30" fill="#fff" stroke="#FF0000" stroke-width="0.50"/><path d="M578.30,272.73 A1.30,1.30 0 0 1 578.30,275.33 Z" fill="#FF0000"/><circle cx="588.90" cy="255.19" r="1.30" fill="#fff" stroke="#FF0000" stroke-width="0.50"/><path d="M588.90,253.89 A1.30,1.30 0 0 1 588.90,256.50 Z" fill="#FF0000"/><circle cx="599.50" cy="224.61" r="1.30" fill="#fff" stroke="#FF0000" stroke-width="0.50"/><path d="M599.50,223.31 A1.30,1.30 0 0 1 599.50,225.91 Z" fill="#FF0000"/><circle cx="620.70" cy="203.51" r="1.30" fill="#fff" stroke="#FF0000" stroke-width="0.50"/><path d="M620.70,202.21 A1.30,1.30 0 0 1 620.70,204.81 Z" fill="#FF0000"/><circle cx="641.90" cy="182.56" r="1.30" fill="#fff" stroke="#FF0000" stroke-width="0.50"/><path d="M641.90,181.26 A1.30,1.30 0 0 1 641.90,183.86 Z" fill="#FF0000"/><circle cx="567.70" cy="311.04" r="1.30" fill="#fff" stroke="#00FF00" stroke-width="0.50"/><path d="M567.70,309.74 A1.30,1.30 0 0 1 567.70,312.34 Z" fill="#00FF00"/><circle cx="573.00" cy="301.55" r="1.30" fill="#fff" stroke="#00FF00" stroke-width="0.50"/><path d="M573.00,300.25 A1.30,1.30 0 0 1 573.00,302.85 Z" fill="#00FF00"/><circle cx="578.30" cy="289.14" r="1.30" fill="#fff" stroke="#00FF00" stroke-width="0.50"/><path d="M578.30,287.84 A1.30,1.30 0 0 1 578.30,290.44 Z" fill="#00FF00"/><circle cx="588.90" cy="277.46" r="1.30" fill="#fff" stroke="#00FF00" stroke-width="0.50"/><path d="M588.90,276.16 A1.30,1.30 0 0 1 588.90,278.76 Z" fill="#00FF00"/><circle cx="599.50" cy="256.29" r="1.30" fill="#fff" stroke="#00FF00" stroke-width="0.50"/><path d="M599.50,254.99 A1.30,1.30 0 0 1 599.50,257.59 Z" fill="#00FF00"/><circle cx="620.70" cy="236.73" r="1.30" fill="#fff" stroke="#00FF00" stroke-width="0.50"/><path d="M620.70,235.43 A1.30,1.30 0 0 1 620.70,238.03 Z" fill="#00FF00"/><circle cx="641.90" cy="225.27" r="1.30" fill="#fff" stroke="#00FF00" stroke-width="0.50"/><path d="M641.90,223.97 A1.30,1.30 0 0 1 641.90,226.57 Z" fill="#00FF00"/><circle cx="663.10" cy="211.76" r="1.30" fill="#fff" stroke="#00FF00" stroke-width="0.50"/><path d="M663.10,210.46 A1.30,1.30 0 0 1 663.10,213.06 Z" fill="#00FF00"/><circle cx="684.30" cy="205.92" r="1.30" fill="#fff" stroke="#00FF00" stroke-width="0.50"/><path d="M684.30,204.62 A1.30,1.30 0 0 1 684.30,207.22 Z" fill="#00FF00"/><circle cx="822.10" cy="200.66" r="1.30" fill="#fff" stroke="#00FF00" stroke-width="0.50"/><path d="M822.10,199.36 A1.30,1.30 0 0 1 822.10,201.96 Z" fill="#00FF00"/><circle cx="1076.50" cy="196.72" r="1.30" fill="#fff" stroke="#00FF00" stroke-width="0.50"/><path d="M1076.50,195.42 A1.30,1.30 0 0 1 1076.50,198.02 Z" fill="#00FF00"/><circle cx="1330.90" cy="195.41" r="1.30" fill="#fff" stroke="#00FF00" stroke-width="0.50"/><path d="M1330.90,194.11 A1.30,1.30 0 0 1 1330.90,196.71 Z" fill="#00FF00"/><circle cx="1585.30" cy="193.36" r="1.30" fill="#fff" stroke="#00FF00" stroke-width="0.50"/><path d="M1585.30,192.06 A1.30,1.30 0 0 1 1585.30,194.66 Z" fill="#00FF00"/><circle cx="1839.70" cy="192.05" r="1.30" fill="#fff" stroke="#00FF00" stroke-width="0.50"/><path d="M1839.70,190.75 A1.30,1.30 0 0 1 1839.70,193.35 Z" fill="#00FF00"/><circle cx="2094.10" cy="189.13" r="1.30" fill="#fff" stroke="#00FF00" stroke-width="0.50"/><path d="M2094.10,187.83 A1.30,1.30 0 0 1 2094.10,190.43 Z" fill="#00FF00"/><circle cx="2348.50" cy="188.40" r="1.30" fill="#fff" stroke="#00FF00" stroke-width="0.50"/><path d="M2348.50,187.10 A1.30,1.30 0 0 1 2348.50,189.70 Z" fill="#00FF00"/><circle cx="567.70" cy="312.50" r="1.30" fill="#fff" stroke="#0000FF" stroke-width="0.50"/><path d="M567.70,311.20 A1.30,1.30 0 0 1 567.70,313.80 Z" fill="#0000FF"/><circle cx="573.00" cy="299.36" r="1.30" fill="#fff" stroke="#0000FF" stroke-width="0.50"/><path d="M573.00,298.06 A1.30,1.30 0 0 1 573.00,300.66 Z" fill="#0000FF"/><circle cx="578.30" cy="286.95" r="1.30" fill="#fff" stroke="#0000FF" stroke-width="0.50"/><path d="M578.30,285.65 A1.30,1.30 0 0 1 578.30,288.25 Z" fill="#0000FF"/><circle cx="588.90" cy="274.54" r="1.30" fill="#fff" stroke="#0000FF" stroke-width="0.50"/><path d="M588.90,273.24 A1.30,1.30 0 0 1 588.90,275.84 Z" fill="#0000FF"/><circle cx="599.50" cy="251.33" r="1.30" fill="#fff" stroke="#0000FF" stroke-width="0.50"/><path d="M599.50,250.03 A1.30,1.30 0 0 1 599.50,252.63 Z" fill="#0000FF"/><circle cx="620.70" cy="230.81" r="1.30" fill="#fff" stroke="#0000FF" stroke-width="0.50"/><path d="M620.70,229.51 A1.30,1.30 0 0 1 620.70,232.11 Z" fill="#0000FF"/><circle cx="641.90" cy="218.77" r="1.30" fill="#fff" stroke="#0000FF" stroke-width="0.50"/><path d="M641.90,217.47 A1.30,1.30 0 0 1 641.90,220.07 Z" fill="#0000FF"/><circle cx="663.10" cy="203.22" r="1.30" fill="#fff" stroke="#0000FF" stroke-width="0.50"/><path d="M663.10,201.92 A1.30,1.30 0 0 1 663.10,204.52 Z" fill="#0000FF"/><circle cx="684.30" cy="198.62" r="1.30" fill="#fff" stroke="#0000FF" stroke-width="0.50"/><path d="M684.30,197.32 A1.30,1.30 0 0 1 684.30,199.92 Z" fill="#0000FF"/><circle cx="822.10" cy="189.64" r="1.30" fill="#fff" stroke="#0000FF" stroke-width="0.50"/><path d="M822.10,188.34 A1.30,1.30 0 0 1 822.10,190.94 Z" fill="#0000FF"/><circle cx="1076.50" cy="188.04" r="1.30" fill="#fff" stroke="#0000FF" stroke-width="0.50"/><path d="M1076.50,186.74 A1.30,1.30 0 0 1 1076.50,189.34 Z" fill="#0000FF"/><circle cx="1330.90" cy="186.94" r="1.30" fill="#fff" stroke="#0000FF" stroke-width="0.50"/><path d="M1330.90,185.64 A1.30,1.30 0 0 1 1330.90,188.24 Z" fill="#0000FF"/><circle cx="1585.30" cy="185.41" r="1.30" fill="#fff" stroke="#0000FF" stroke-width="0.50"/><path d="M1585.30,184.11 A1.30,1.30 0 0 1 1585.30,186.71 Z" fill="#0000FF"/><circle cx="1839.70" cy="183.80" r="1.30" fill="#fff" stroke="#0000FF" stroke-width="0.50"/><path d="M1839.70,182.50 A1.30,1.30 0 0 1 1839.70,185.10 Z" fill="#0000FF"/><circle cx="2094.10" cy="182.49" r="1.30" fill="#fff" stroke="#0000FF" stroke-width="0.50"/><path d="M2094.10,181.19 A1.30,1.30 0 0 1 2094.10,183.79 Z" fill="#0000FF"/><circle cx="2348.50" cy="180.81" r="1.30" fill="#fff" stroke="#0000FF" stroke-width="0.50"/><path d="M2348.50,179.51 A1.30,1.30 0 0 1 2348.50,182.11 Z" fill="#0000FF"/><circle cx="567.70" cy="313.96" r="1.30" fill="#fff" stroke="#FF00FF" stroke-width="0.50"/><path d="M567.70,312.66 A1.30,1.30 0 0 1 567.70,315.26 Z" fill="#FF00FF"/><circle cx="573.00" cy="303.74" r="1.30" fill="#fff" stroke="#FF00FF" stroke-width="0.50"/><path d="M573.00,302.44 A1.30,1.30 0 0 1 573.00,305.04 Z" fill="#FF00FF"/><circle cx="578.30" cy="292.06" r="1.30" fill="#fff" stroke="#FF00FF" stroke-width="0.50"/><path d="M578.30,290.76 A1.30,1.30 0 0 1 578.30,293.36 Z" fill="#FF00FF"/><circle cx="588.90" cy="279.65" r="1.30" fill="#fff" stroke="#FF00FF" stroke-width="0.50"/><path d="M588.90,278.35 A1.30,1.30 0 0 1 588.90,280.95 Z" fill="#FF00FF"/><circle cx="599.50" cy="259.43" r="1.30" fill="#fff" stroke="#FF00FF" stroke-width="0.50"/><path d="M599.50,258.13 A1.30,1.30 0 0 1 599.50,260.73 Z" fill="#FF00FF"/><circle cx="620.70" cy="238.99" r="1.30" fill="#fff" stroke="#FF00FF" stroke-width="0.50"/><path d="M620.70,237.69 A1.30,1.30 0 0 1 620.70,240.29 Z" fill="#FF00FF"/><circle cx="641.90" cy="228.55" r="1.30" fill="#fff" stroke="#FF00FF" stroke-width="0.50"/><path d="M641.90,227.25 A1.30,1.30 0 0 1 641.90,229.85 Z" fill="#FF00FF"/><circle cx="663.10" cy="218.77" r="1.30" fill="#fff" stroke="#FF00FF" stroke-width="0.50"/><path d="M663.10,217.47 A1.30,1.30 0 0 1 663.10,220.07 Z" fill="#FF00FF"/><circle cx="684.30" cy="210.67" r="1.30" fill="#fff" stroke="#FF00FF" stroke-width="0.50"/><path d="M684.30,209.37 A1.30,1.30 0 0 1 684.30,211.97 Z" fill="#FF00FF"/><circle cx="822.10" cy="201.32" r="1.30" fill="#fff" stroke="#FF00FF" stroke-width="0.50"/><path d="M822.10,200.02 A1.30,1.30 0 0 1 822.10,202.62 Z" fill="#FF00FF"/><circle cx="1076.50" cy="199.35" r="1.30" fill="#fff" stroke="#FF00FF" stroke-width="0.50"/><path d="M1076.50,198.05 A1.30,1.30 0 0 1 1076.50,200.65 Z" fill="#FF00FF"/><circle cx="1330.90" cy="195.99" r="1.30" fill="#fff" stroke="#FF00FF" stroke-width="0.50"/><path d="M1330.90,194.69 A1.30,1.30 0 0 1 1330.90,197.29 Z" fill="#FF00FF"/><circle cx="1585.30" cy="192.78" r="1.30" fill="#fff" stroke="#FF00FF" stroke-width="0.50"/><path d="M1585.30,191.48 A1.30,1.30 0 0 1 1585.30,194.08 Z" fill="#FF00FF"/><circle cx="1839.70" cy="190.74" r="1.30" fill="#fff" stroke="#FF00FF" stroke-width="0.50"/><path d="M1839.70,189.44 A1.30,1.30 0 0 1 1839.70,192.04 Z" fill="#FF00FF"/><circle cx="2094.10" cy="188.18" r="1.30" fill="#fff" stroke="#FF00FF" stroke-width="0.50"/><path d="M2094.10,186.88 A1.30,1.30 0 0 1 2094.10,189.48 Z" fill="#FF00FF"/><circle cx="2348.50" cy="186.94" r="1.30" fill="#fff" stroke="#FF00FF" stroke-width="0.50"/><path d="M2348.50,185.64 A1.30,1.30 0 0 1 2348.50,188.24 Z" fill="#FF00FF"/><circle cx="567.70" cy="316.15" r="1.30" fill="#fff" stroke="#800000" stroke-width="0.50"/><path d="M567.70,314.85 A1.30,1.30 0 0 1 567.70,317.45 Z" fill="#800000"/><circle cx="573.00" cy="313.30" r="1.30" fill="#fff" stroke="#800000" stroke-width="0.50"/><path d="M573.00,312.00 A1.30,1.30 0 0 1 573.00,314.60 Z" fill="#800000"/><circle cx="578.30" cy="309.00" r="1.30" fill="#fff" stroke="#800000" stroke-width="0.50"/><path d="M578.30,307.70 A1.30,1.30 0 0 1 578.30,310.30 Z" fill="#800000"/><circle cx="588.90" cy="307.54" r="1.30" fill="#fff" stroke="#800000" stroke-width="0.50"/><path d="M588.90,306.24 A1.30,1.30 0 0 1 588.90,308.84 Z" fill="#800000"/><circle cx="599.50" cy="303.30" r="1.30" fill="#fff" stroke="#800000" stroke-width="0.50"/><path d="M599.50,302.00 A1.30,1.30 0 0 1 599.50,304.60 Z" fill="#800000"/><circle cx="620.70" cy="299.73" r="1.30" fill="#fff" stroke="#800000" stroke-width="0.50"/><path d="M620.70,298.43 A1.30,1.30 0 0 1 620.70,301.03 Z" fill="#800000"/><circle cx="641.90" cy="295.05" r="1.30" fill="#fff" stroke="#800000" stroke-width="0.50"/><path d="M641.90,293.75 A1.30,1.30 0 0 1 641.90,296.35 Z" fill="#800000"/><circle cx="663.10" cy="287.75" r="1.30" fill="#fff" stroke="#800000" stroke-width="0.50"/><path d="M663.10,286.45 A1.30,1.30 0 0 1 663.10,289.05 Z" fill="#800000"/><circle cx="684.30" cy="284.76" r="1.30" fill="#fff" stroke="#800000" stroke-width="0.50"/><path d="M684.30,283.46 A1.30,1.30 0 0 1 684.30,286.06 Z" fill="#800000"/><circle cx="822.10" cy="281.84" r="1.30" fill="#fff" stroke="#800000" stroke-width="0.50"/><path d="M822.10,280.54 A1.30,1.30 0 0 1 822.10,283.14 Z" fill="#800000"/><circle cx="1076.50" cy="279.50" r="1.30" fill="#fff" stroke="#800000" stroke-width="0.50"/><path d="M1076.50,278.20 A1.30,1.30 0 0 1 1076.50,280.80 Z" fill="#800000"/><circle cx="1330.90" cy="278.77" r="1.30" fill="#fff" stroke="#800000" stroke-width="0.50"/><path d="M1330.90,277.47 A1.30,1.30 0 0 1 1330.90,280.07 Z" fill="#800000"/><circle cx="1585.30" cy="276.73" r="1.30" fill="#fff" stroke="#800000" stroke-width="0.50"/><path d="M1585.30,275.43 A1.30,1.30 0 0 1 1585.30,278.03 Z" fill="#800000"/><circle cx="1839.70" cy="275.42" r="1.30" fill="#fff" stroke="#800000" stroke-width="0.50"/><path d="M1839.70,274.12 A1.30,1.30 0 0 1 1839.70,276.72 Z" fill="#800000"/><circle cx="2094.10" cy="273.81" r="1.30" fill="#fff" stroke="#800000" stroke-width="0.50"/><path d="M2094.10,272.51 A1.30,1.30 0 0 1 2094.10,275.11 Z" fill="#800000"/><circle cx="2348.50" cy="273.01" r="1.30" fill="#fff" stroke="#800000" stroke-width="0.50"/><path d="M2348.50,271.71 A1.30,1.30 0 0 1 2348.50,274.31 Z" fill="#800000"/><circle cx="567.70" cy="319.80" r="1.30" fill="#fff" stroke="#800080" stroke-width="0.50"/><path d="M567.70,318.50 A1.30,1.30 0 0 1 567.70,321.10 Z" fill="#800080"/><circle cx="573.00" cy="308.12" r="1.30" fill="#fff" stroke="#800080" stroke-width="0.50"/><path d="M573.00,306.82 A1.30,1.30 0 0 1 573.00,309.42 Z" fill="#800080"/><circle cx="578.30" cy="303.89" r="1.30" fill="#fff" stroke="#800080" stroke-width="0.50"/><path d="M578.30,302.59 A1.30,1.30 0 0 1 578.30,305.19 Z" fill="#800080"/><circle cx="588.90" cy="302.35" r="1.30" fill="#fff" stroke="#800080" stroke-width="0.50"/><path d="M588.90,301.05 A1.30,1.30 0 0 1 588.90,303.65 Z" fill="#800080"/><circle cx="599.50" cy="298.70" r="1.30" fill="#fff" stroke="#800080" stroke-width="0.50"/><path d="M599.50,297.40 A1.30,1.30 0 0 1 599.50,300.00 Z" fill="#800080"/><circle cx="620.70" cy="297.83" r="1.30" fill="#fff" stroke="#800080" stroke-width="0.50"/><path d="M620.70,296.53 A1.30,1.30 0 0 1 620.70,299.13 Z" fill="#800080"/><circle cx="641.90" cy="293.16" r="1.30" fill="#fff" stroke="#800080" stroke-width="0.50"/><path d="M641.90,291.86 A1.30,1.30 0 0 1 641.90,294.46 Z" fill="#800080"/><circle cx="663.10" cy="284.32" r="1.30" fill="#fff" stroke="#800080" stroke-width="0.50"/><path d="M663.10,283.02 A1.30,1.30 0 0 1 663.10,285.62 Z" fill="#800080"/><circle cx="684.30" cy="279.29" r="1.30" fill="#fff" stroke="#800080" stroke-width="0.50"/><path d="M684.30,277.99 A1.30,1.30 0 0 1 684.30,280.59 Z" fill="#800080"/><circle cx="822.10" cy="276.66" r="1.30" fill="#fff" stroke="#800080" stroke-width="0.50"/><path d="M822.10,275.36 A1.30,1.30 0 0 1 822.10,277.96 Z" fill="#800080"/><circle cx="1076.50" cy="270.74" r="1.30" fill="#fff" stroke="#800080" stroke-width="0.50"/><path d="M1076.50,269.44 A1.30,1.30 0 0 1 1076.50,272.04 Z" fill="#800080"/><circle cx="1330.90" cy="264.98" r="1.30" fill="#fff" stroke="#800080" stroke-width="0.50"/><path d="M1330.90,263.68 A1.30,1.30 0 0 1 1330.90,266.28 Z" fill="#800080"/><circle cx="1585.30" cy="257.75" r="1.30" fill="#fff" stroke="#800080" stroke-width="0.50"/><path d="M1585.30,256.45 A1.30,1.30 0 0 1 1585.30,259.05 Z" fill="#800080"/><circle cx="1839.70" cy="254.68" r="1.30" fill="#fff" stroke="#800080" stroke-width="0.50"/><path d="M1839.70,253.38 A1.30,1.30 0 0 1 1839.70,255.98 Z" fill="#800080"/><circle cx="2094.10" cy="247.38" r="1.30" fill="#fff" stroke="#800080" stroke-width="0.50"/><path d="M2094.10,246.08 A1.30,1.30 0 0 1 2094.10,248.68 Z" fill="#800080"/><circle cx="2348.50" cy="238.77" r="1.30" fill="#fff" stroke="#800080" stroke-width="0.50"/><path d="M2348.50,237.47 A1.30,1.30 0 0 1 2348.50,240.07 Z" fill="#800080"/><path d="M573.00,294.98 V306.66 M571.40,294.98 H574.60 M571.40,306.66 H574.60" stroke="#000000" stroke-width="0.55" fill="none"/><path d="M578.30,276.73 V286.95 M576.70,276.73 H579.90 M576.70,286.95 H579.90" stroke="#000000" stroke-width="0.55" fill="none"/><path d="M588.90,258.48 V271.62 M587.30,258.48 H590.50 M587.30,271.62 H590.50" stroke="#000000" stroke-width="0.55" fill="none"/><path d="M599.50,226.36 V243.88 M597.90,226.36 H601.10 M597.90,243.88 H601.10" stroke="#000000" stroke-width="0.55" fill="none"/><path d="M620.70,208.11 V225.63 M619.10,208.11 H622.30 M619.10,225.63 H622.30" stroke="#000000" stroke-width="0.55" fill="none"/><path d="M641.90,180.74 V192.42 M640.30,180.74 H643.50 M640.30,192.42 H643.50" stroke="#000000" stroke-width="0.55" fill="none"/><path d="M573.00,293.52 V302.28 M571.40,293.52 H574.60 M571.40,302.28 H574.60" stroke="#FF0000" stroke-width="0.55" fill="none"/><path d="M578.30,268.19 V279.87 M576.70,268.19 H579.90 M576.70,279.87 H579.90" stroke="#FF0000" stroke-width="0.55" fill="none"/><path d="M588.90,248.62 V261.76 M587.30,248.62 H590.50 M587.30,261.76 H590.50" stroke="#FF0000" stroke-width="0.55" fill="none"/><path d="M599.50,212.20 V237.02 M597.90,212.20 H601.10 M597.90,237.02 H601.10" stroke="#FF0000" stroke-width="0.55" fill="none"/><path d="M620.70,196.21 V210.81 M619.10,196.21 H622.30 M619.10,210.81 H622.30" stroke="#FF0000" stroke-width="0.55" fill="none"/><path d="M641.90,177.45 V187.67 M640.30,177.45 H643.50 M640.30,187.67 H643.50" stroke="#FF0000" stroke-width="0.55" fill="none"/><path d="M567.70,309.58 V312.50 M566.10,309.58 H569.30 M566.10,312.50 H569.30" stroke="#00FF00" stroke-width="0.55" fill="none"/><path d="M573.00,298.63 V304.47 M571.40,298.63 H574.60 M571.40,304.47 H574.60" stroke="#00FF00" stroke-width="0.55" fill="none"/><path d="M578.30,285.49 V292.79 M576.70,285.49 H579.90 M576.70,292.79 H579.90" stroke="#00FF00" stroke-width="0.55" fill="none"/><path d="M588.90,273.08 V281.84 M587.30,273.08 H590.50 M587.30,281.84 H590.50" stroke="#00FF00" stroke-width="0.55" fill="none"/><path d="M599.50,251.18 V261.40 M597.90,251.18 H601.10 M597.90,261.40 H601.10" stroke="#00FF00" stroke-width="0.55" fill="none"/><path d="M620.70,230.89 V242.57 M619.10,230.89 H622.30 M619.10,242.57 H622.30" stroke="#00FF00" stroke-width="0.55" fill="none"/><path d="M641.90,218.70 V231.84 M640.30,218.70 H643.50 M640.30,231.84 H643.50" stroke="#00FF00" stroke-width="0.55" fill="none"/><path d="M663.10,205.19 V218.33 M661.50,205.19 H664.70 M661.50,218.33 H664.70" stroke="#00FF00" stroke-width="0.55" fill="none"/><path d="M684.30,198.62 V213.22 M682.70,198.62 H685.90 M682.70,213.22 H685.90" stroke="#00FF00" stroke-width="0.55" fill="none"/><path d="M822.10,192.63 V208.69 M820.50,192.63 H823.70 M820.50,208.69 H823.70" stroke="#00FF00" stroke-width="0.55" fill="none"/><path d="M1076.50,188.69 V204.75 M1074.90,188.69 H1078.10 M1074.90,204.75 H1078.10" stroke="#00FF00" stroke-width="0.55" fill="none"/><path d="M1330.90,186.65 V204.17 M1329.30,186.65 H1332.50 M1329.30,204.17 H1332.50" stroke="#00FF00" stroke-width="0.55" fill="none"/><path d="M1585.30,184.60 V202.12 M1583.70,184.60 H1586.90 M1583.70,202.12 H1586.90" stroke="#00FF00" stroke-width="0.55" fill="none"/><path d="M1839.70,184.02 V200.08 M1838.10,184.02 H1841.30 M1838.10,200.08 H1841.30" stroke="#00FF00" stroke-width="0.55" fill="none"/><path d="M2094.10,182.20 V196.07 M2092.50,182.20 H2095.70 M2092.50,196.07 H2095.70" stroke="#00FF00" stroke-width="0.55" fill="none"/><path d="M2348.50,178.40 V198.40 M2346.90,178.40 H2350.10 M2346.90,198.40 H2350.10" stroke="#00FF00" stroke-width="0.55" fill="none"/><path d="M567.70,311.04 V313.96 M566.10,311.04 H569.30 M566.10,313.96 H569.30" stroke="#0000FF" stroke-width="0.55" fill="none"/><path d="M573.00,296.44 V302.28 M571.40,296.44 H574.60 M571.40,302.28 H574.60" stroke="#0000FF" stroke-width="0.55" fill="none"/><path d="M578.30,283.30 V290.60 M576.70,283.30 H579.90 M576.70,290.60 H579.90" stroke="#0000FF" stroke-width="0.55" fill="none"/><path d="M588.90,270.16 V278.92 M587.30,270.16 H590.50 M587.30,278.92 H590.50" stroke="#0000FF" stroke-width="0.55" fill="none"/><path d="M599.50,246.22 V256.44 M597.90,246.22 H601.10 M597.90,256.44 H601.10" stroke="#0000FF" stroke-width="0.55" fill="none"/><path d="M620.70,224.97 V236.65 M619.10,224.97 H622.30 M619.10,236.65 H622.30" stroke="#0000FF" stroke-width="0.55" fill="none"/><path d="M641.90,212.20 V225.34 M640.30,212.20 H643.50 M640.30,225.34 H643.50" stroke="#0000FF" stroke-width="0.55" fill="none"/><path d="M663.10,196.65 V209.79 M661.50,196.65 H664.70 M661.50,209.79 H664.70" stroke="#0000FF" stroke-width="0.55" fill="none"/><path d="M684.30,193.51 V203.73 M682.70,193.51 H685.90 M682.70,203.73 H685.90" stroke="#0000FF" stroke-width="0.55" fill="none"/><path d="M822.10,181.61 V197.67 M820.50,181.61 H823.70 M820.50,197.67 H823.70" stroke="#0000FF" stroke-width="0.55" fill="none"/><path d="M1076.50,181.10 V194.97 M1074.90,181.10 H1078.10 M1074.90,194.97 H1078.10" stroke="#0000FF" stroke-width="0.55" fill="none"/><path d="M1330.90,178.69 V195.19 M1329.30,178.69 H1332.50 M1329.30,195.19 H1332.50" stroke="#0000FF" stroke-width="0.55" fill="none"/><path d="M1585.30,176.06 V194.75 M1583.70,176.06 H1586.90 M1583.70,194.75 H1586.90" stroke="#0000FF" stroke-width="0.55" fill="none"/><path d="M1839.70,176.14 V191.47 M1838.10,176.14 H1841.30 M1838.10,191.47 H1841.30" stroke="#0000FF" stroke-width="0.55" fill="none"/><path d="M2094.10,175.19 V189.79 M2092.50,175.19 H2095.70 M2092.50,189.79 H2095.70" stroke="#0000FF" stroke-width="0.55" fill="none"/><path d="M2348.50,172.92 V188.69 M2346.90,172.92 H2350.10 M2346.90,188.69 H2350.10" stroke="#0000FF" stroke-width="0.55" fill="none"/><path d="M567.70,312.50 V315.42 M566.10,312.50 H569.30 M566.10,315.42 H569.30" stroke="#FF00FF" stroke-width="0.55" fill="none"/><path d="M573.00,300.82 V306.66 M571.40,300.82 H574.60 M571.40,306.66 H574.60" stroke="#FF00FF" stroke-width="0.55" fill="none"/><path d="M578.30,288.41 V295.71 M576.70,288.41 H579.90 M576.70,295.71 H579.90" stroke="#FF00FF" stroke-width="0.55" fill="none"/><path d="M588.90,275.27 V284.03 M587.30,275.27 H590.50 M587.30,284.03 H590.50" stroke="#FF00FF" stroke-width="0.55" fill="none"/><path d="M599.50,254.32 V264.54 M597.90,254.32 H601.10 M597.90,264.54 H601.10" stroke="#FF00FF" stroke-width="0.55" fill="none"/><path d="M620.70,233.15 V244.83 M619.10,233.15 H622.30 M619.10,244.83 H622.30" stroke="#FF00FF" stroke-width="0.55" fill="none"/><path d="M641.90,214.68 V242.42 M640.30,214.68 H643.50 M640.30,242.42 H643.50" stroke="#FF00FF" stroke-width="0.55" fill="none"/><path d="M663.10,212.20 V225.34 M661.50,212.20 H664.70 M661.50,225.34 H664.70" stroke="#FF00FF" stroke-width="0.55" fill="none"/><path d="M684.30,203.37 V217.97 M682.70,203.37 H685.90 M682.70,217.97 H685.90" stroke="#FF00FF" stroke-width="0.55" fill="none"/><path d="M822.10,192.56 V210.08 M820.50,192.56 H823.70 M820.50,210.08 H823.70" stroke="#FF00FF" stroke-width="0.55" fill="none"/><path d="M1076.50,190.01 V208.69 M1074.90,190.01 H1078.10 M1074.90,208.69 H1078.10" stroke="#FF00FF" stroke-width="0.55" fill="none"/><path d="M1330.90,188.40 V203.58 M1329.30,188.40 H1332.50 M1329.30,203.58 H1332.50" stroke="#FF00FF" stroke-width="0.55" fill="none"/><path d="M1585.30,184.24 V201.32 M1583.70,184.24 H1586.90 M1583.70,201.32 H1586.90" stroke="#FF00FF" stroke-width="0.55" fill="none"/><path d="M1839.70,181.83 V199.64 M1838.10,181.83 H1841.30 M1838.10,199.64 H1841.30" stroke="#FF00FF" stroke-width="0.55" fill="none"/><path d="M2094.10,180.30 V196.06 M2092.50,180.30 H2095.70 M2092.50,196.06 H2095.70" stroke="#FF00FF" stroke-width="0.55" fill="none"/><path d="M2348.50,178.11 V195.77 M2346.90,178.11 H2350.10 M2346.90,195.77 H2350.10" stroke="#FF00FF" stroke-width="0.55" fill="none"/><path d="M567.70,314.69 V317.61 M566.10,314.69 H569.30 M566.10,317.61 H569.30" stroke="#800000" stroke-width="0.55" fill="none"/><path d="M573.00,311.84 V314.76 M571.40,311.84 H574.60 M571.40,314.76 H574.60" stroke="#800000" stroke-width="0.55" fill="none"/><path d="M578.30,306.81 V311.19 M576.70,306.81 H579.90 M576.70,311.19 H579.90" stroke="#800000" stroke-width="0.55" fill="none"/><path d="M588.90,305.35 V309.73 M587.30,305.35 H590.50 M587.30,309.73 H590.50" stroke="#800000" stroke-width="0.55" fill="none"/><path d="M599.50,301.11 V305.49 M597.90,301.11 H601.10 M597.90,305.49 H601.10" stroke="#800000" stroke-width="0.55" fill="none"/><path d="M620.70,297.54 V301.92 M619.10,297.54 H622.30 M619.10,301.92 H622.30" stroke="#800000" stroke-width="0.55" fill="none"/><path d="M641.90,292.86 V297.24 M640.30,292.86 H643.50 M640.30,297.24 H643.50" stroke="#800000" stroke-width="0.55" fill="none"/><path d="M663.10,285.56 V289.94 M661.50,285.56 H664.70 M661.50,289.94 H664.70" stroke="#800000" stroke-width="0.55" fill="none"/><path d="M684.30,282.57 V286.95 M682.70,282.57 H685.90 M682.70,286.95 H685.90" stroke="#800000" stroke-width="0.55" fill="none"/><path d="M822.10,281.11 V282.57 M820.50,281.11 H823.70 M820.50,282.57 H823.70" stroke="#800000" stroke-width="0.55" fill="none"/><path d="M1076.50,276.58 V282.42 M1074.90,276.58 H1078.10 M1074.90,282.42 H1078.10" stroke="#800000" stroke-width="0.55" fill="none"/><path d="M1330.90,275.85 V281.69 M1329.30,275.85 H1332.50 M1329.30,281.69 H1332.50" stroke="#800000" stroke-width="0.55" fill="none"/><path d="M1585.30,274.18 V279.29 M1583.70,274.18 H1586.90 M1583.70,279.29 H1586.90" stroke="#800000" stroke-width="0.55" fill="none"/><path d="M1839.70,273.96 V276.88 M1838.10,273.96 H1841.30 M1838.10,276.88 H1841.30" stroke="#800000" stroke-width="0.55" fill="none"/><path d="M2094.10,271.11 V276.51 M2092.50,271.11 H2095.70 M2092.50,276.51 H2095.70" stroke="#800000" stroke-width="0.55" fill="none"/><path d="M2348.50,270.23 V275.78 M2346.90,270.23 H2350.10 M2346.90,275.78 H2350.10" stroke="#800000" stroke-width="0.55" fill="none"/><path d="M567.70,318.34 V321.26 M566.10,318.34 H569.30 M566.10,321.26 H569.30" stroke="#800080" stroke-width="0.55" fill="none"/><path d="M573.00,306.66 V309.58 M571.40,306.66 H574.60 M571.40,309.58 H574.60" stroke="#800080" stroke-width="0.55" fill="none"/><path d="M578.30,301.70 V306.08 M576.70,301.70 H579.90 M576.70,306.08 H579.90" stroke="#800080" stroke-width="0.55" fill="none"/><path d="M588.90,300.16 V304.54 M587.30,300.16 H590.50 M587.30,304.54 H590.50" stroke="#800080" stroke-width="0.55" fill="none"/><path d="M599.50,296.51 V300.89 M597.90,296.51 H601.10 M597.90,300.89 H601.10" stroke="#800080" stroke-width="0.55" fill="none"/><path d="M620.70,295.64 V300.02 M619.10,295.64 H622.30 M619.10,300.02 H622.30" stroke="#800080" stroke-width="0.55" fill="none"/><path d="M641.90,290.97 V295.35 M640.30,290.97 H643.50 M640.30,295.35 H643.50" stroke="#800080" stroke-width="0.55" fill="none"/><path d="M663.10,282.13 V286.51 M661.50,282.13 H664.70 M661.50,286.51 H664.70" stroke="#800080" stroke-width="0.55" fill="none"/><path d="M684.30,277.10 V281.48 M682.70,277.10 H685.90 M682.70,281.48 H685.90" stroke="#800080" stroke-width="0.55" fill="none"/><path d="M822.10,275.27 V278.04 M820.50,275.27 H823.70 M820.50,278.04 H823.70" stroke="#800080" stroke-width="0.55" fill="none"/><path d="M1076.50,267.82 V273.66 M1074.90,267.82 H1078.10 M1074.90,273.66 H1078.10" stroke="#800080" stroke-width="0.55" fill="none"/><path d="M1330.90,262.79 V267.17 M1329.30,262.79 H1332.50 M1329.30,267.17 H1332.50" stroke="#800080" stroke-width="0.55" fill="none"/><path d="M1585.30,254.83 V260.67 M1583.70,254.83 H1586.90 M1583.70,260.67 H1586.90" stroke="#800080" stroke-width="0.55" fill="none"/><path d="M1839.70,253.22 V256.14 M1838.10,253.22 H1841.30 M1838.10,256.14 H1841.30" stroke="#800080" stroke-width="0.55" fill="none"/><path d="M2094.10,242.27 V252.49 M2092.50,242.27 H2095.70 M2092.50,252.49 H2095.70" stroke="#800080" stroke-width="0.55" fill="none"/><path d="M2348.50,231.47 V246.07 M2346.90,231.47 H2350.10 M2346.90,246.07 H2350.10" stroke="#800080" stroke-width="0.55" fill="none"/>
</g>
<text x="681.3" y="317.0" text-anchor="end" style="font-family:'Liberation Sans', sans-serif;font-size:10.3px;font-weight:bold;fill:#111;stroke:#111;stroke-width:0.2px">Sub-Figure 1(B)</text>
</svg>
</body></html>
